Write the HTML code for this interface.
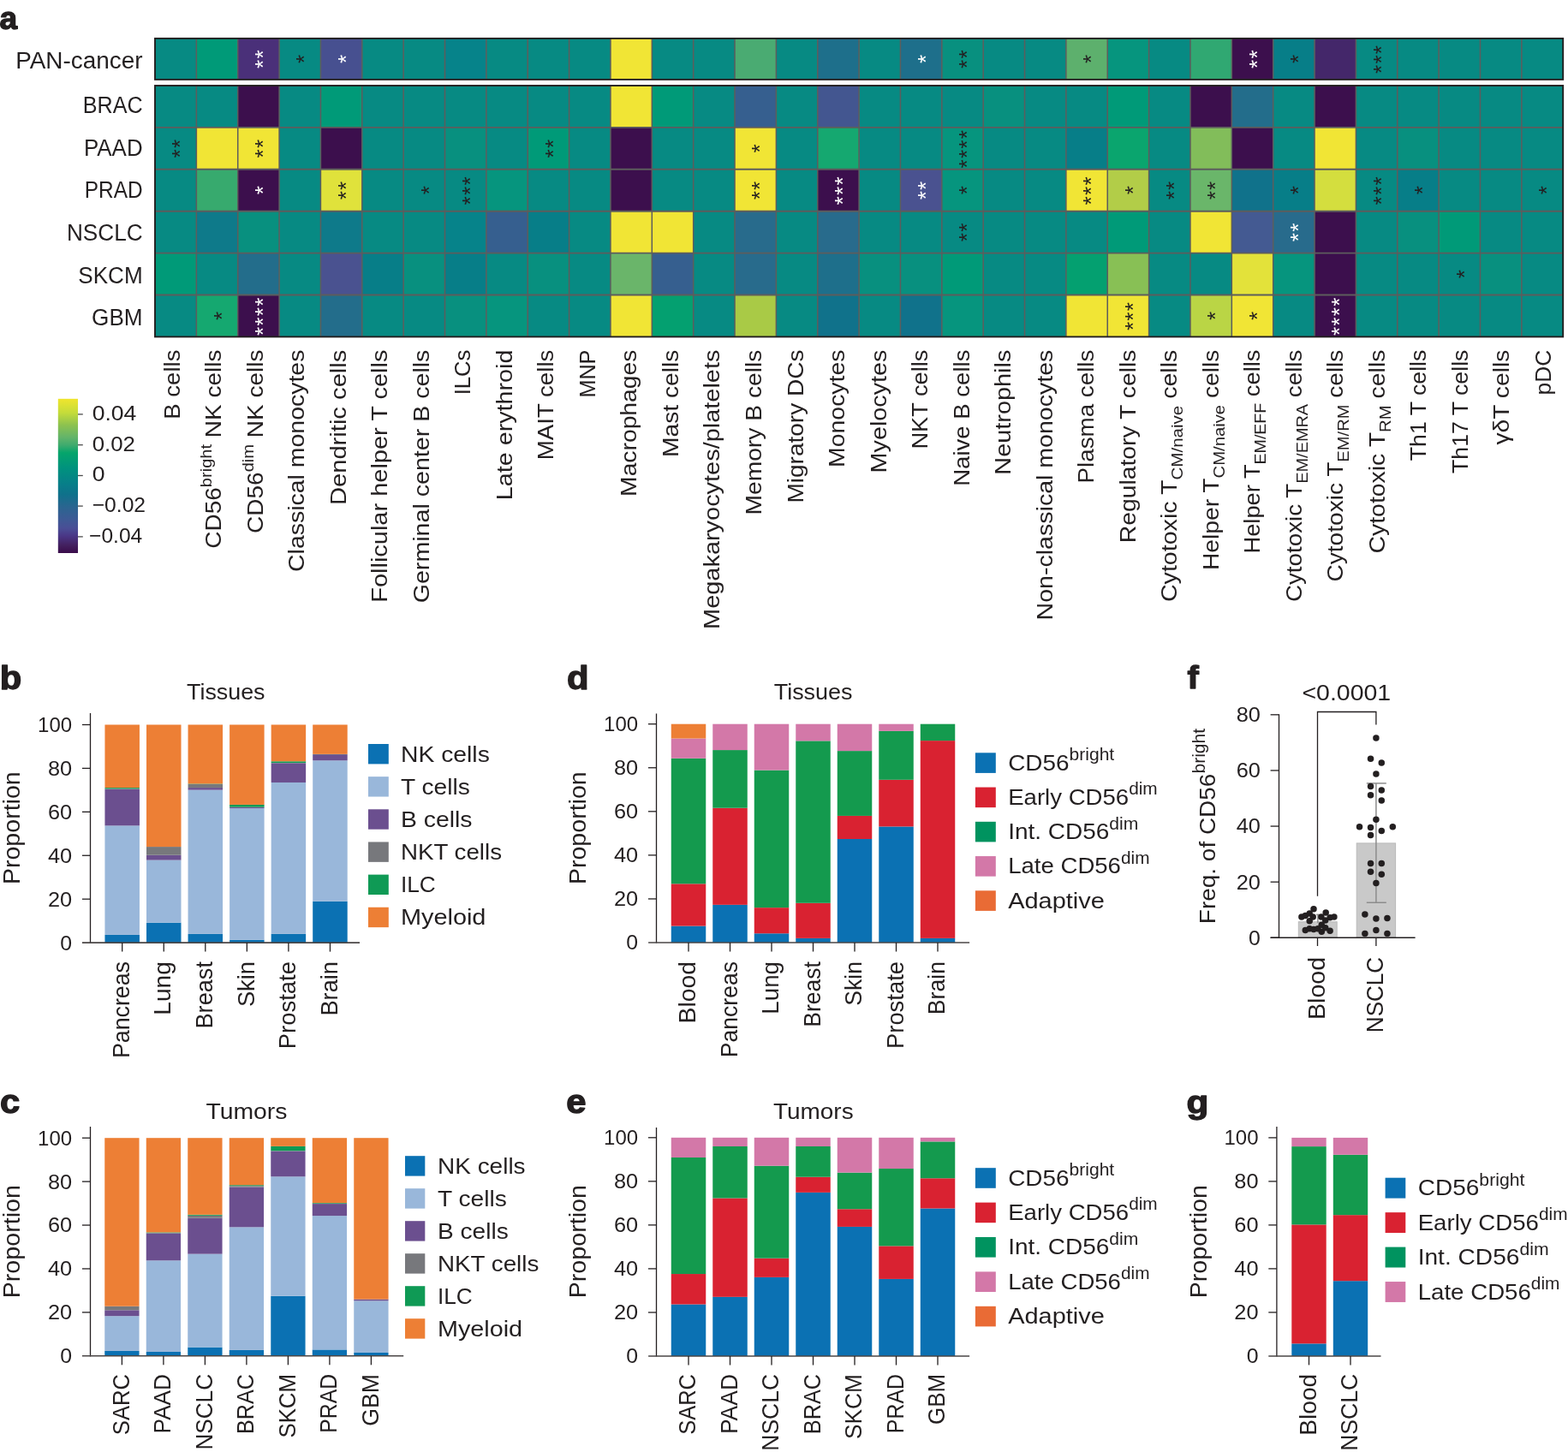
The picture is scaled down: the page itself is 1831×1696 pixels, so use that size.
<!DOCTYPE html>
<html><head><meta charset="utf-8"><title>Figure</title>
<style>
html,body{margin:0;padding:0;background:#fff;}
body{width:1831px;height:1696px;overflow:hidden;}
svg{display:block;font-family:"Liberation Sans", "DejaVu Sans", sans-serif;}
</style></head><body>
<svg width="1831" height="1696" viewBox="0 0 1831 1696">
<rect width="1831" height="1696" fill="#fff"/>
<text transform="translate(-0.4 33.6) scale(1.03 1)" font-size="36" font-weight="bold" fill="#231f20" stroke="#231f20" stroke-width="1.3" stroke-linejoin="round">a</text>
<text transform="translate(-0.2 804.8) scale(1.1 1)" font-size="38" font-weight="bold" fill="#231f20" stroke="#231f20" stroke-width="1.3" stroke-linejoin="round">b</text>
<text transform="translate(-0.1 1300.2) scale(1.1 1)" font-size="38" font-weight="bold" fill="#231f20" stroke="#231f20" stroke-width="1.3" stroke-linejoin="round">c</text>
<text transform="translate(662 804.8) scale(1.1 1)" font-size="38" font-weight="bold" fill="#231f20" stroke="#231f20" stroke-width="1.3" stroke-linejoin="round">d</text>
<text transform="translate(661.3 1300) scale(1.1 1)" font-size="38" font-weight="bold" fill="#231f20" stroke="#231f20" stroke-width="1.3" stroke-linejoin="round">e</text>
<text transform="translate(1386.6 804.3) scale(1.08 1)" font-size="37" font-weight="bold" fill="#231f20" stroke="#231f20" stroke-width="1.3" stroke-linejoin="round">f</text>
<text transform="translate(1385.4 1300) scale(1.14 1)" font-size="37" font-weight="bold" fill="#231f20" stroke="#231f20" stroke-width="1.3" stroke-linejoin="round">g</text>
<rect x="181" y="44.9" width="48.41" height="48.05" fill="#078a83"/>
<rect x="229.36" y="44.9" width="48.41" height="48.05" fill="#009a78"/>
<rect x="277.72" y="44.9" width="48.41" height="48.05" fill="#4a3079"/>
<rect x="326.08" y="44.9" width="48.41" height="48.05" fill="#078a83"/>
<rect x="374.44" y="44.9" width="48.41" height="48.05" fill="#475090"/>
<rect x="422.79" y="44.9" width="48.41" height="48.05" fill="#078a83"/>
<rect x="471.15" y="44.9" width="48.41" height="48.05" fill="#078a83"/>
<rect x="519.51" y="44.9" width="48.41" height="48.05" fill="#06838a"/>
<rect x="567.87" y="44.9" width="48.41" height="48.05" fill="#078a83"/>
<rect x="616.23" y="44.9" width="48.41" height="48.05" fill="#078a83"/>
<rect x="664.59" y="44.9" width="48.41" height="48.05" fill="#078a83"/>
<rect x="712.95" y="44.9" width="48.41" height="48.05" fill="#f1e535"/>
<rect x="761.31" y="44.9" width="48.41" height="48.05" fill="#078a83"/>
<rect x="809.66" y="44.9" width="48.41" height="48.05" fill="#078a83"/>
<rect x="858.02" y="44.9" width="48.41" height="48.05" fill="#4aab72"/>
<rect x="906.38" y="44.9" width="48.41" height="48.05" fill="#078a83"/>
<rect x="954.74" y="44.9" width="48.41" height="48.05" fill="#1e6f8b"/>
<rect x="1003.1" y="44.9" width="48.41" height="48.05" fill="#078a83"/>
<rect x="1051.46" y="44.9" width="48.41" height="48.05" fill="#1e6f8b"/>
<rect x="1099.82" y="44.9" width="48.41" height="48.05" fill="#08907f"/>
<rect x="1148.18" y="44.9" width="48.41" height="48.05" fill="#078a83"/>
<rect x="1196.54" y="44.9" width="48.41" height="48.05" fill="#078a83"/>
<rect x="1244.89" y="44.9" width="48.41" height="48.05" fill="#5db06d"/>
<rect x="1293.25" y="44.9" width="48.41" height="48.05" fill="#06957e"/>
<rect x="1341.61" y="44.9" width="48.41" height="48.05" fill="#078a83"/>
<rect x="1389.97" y="44.9" width="48.41" height="48.05" fill="#30a872"/>
<rect x="1438.33" y="44.9" width="48.41" height="48.05" fill="#3c0f4d"/>
<rect x="1486.69" y="44.9" width="48.41" height="48.05" fill="#077e88"/>
<rect x="1535.05" y="44.9" width="48.41" height="48.05" fill="#44276a"/>
<rect x="1583.41" y="44.9" width="48.41" height="48.05" fill="#078a83"/>
<rect x="1631.76" y="44.9" width="48.41" height="48.05" fill="#078a83"/>
<rect x="1680.12" y="44.9" width="48.41" height="48.05" fill="#078a83"/>
<rect x="1728.48" y="44.9" width="48.41" height="48.05" fill="#078a83"/>
<rect x="1776.84" y="44.9" width="48.41" height="48.05" fill="#078a83"/>
<rect x="181" y="100" width="48.41" height="48.95" fill="#078a83"/>
<rect x="229.36" y="100" width="48.41" height="48.95" fill="#078a83"/>
<rect x="277.72" y="100" width="48.41" height="48.95" fill="#3c0f4d"/>
<rect x="326.08" y="100" width="48.41" height="48.95" fill="#078a83"/>
<rect x="374.44" y="100" width="48.41" height="48.95" fill="#009a78"/>
<rect x="422.79" y="100" width="48.41" height="48.95" fill="#078a83"/>
<rect x="471.15" y="100" width="48.41" height="48.95" fill="#078a83"/>
<rect x="519.51" y="100" width="48.41" height="48.95" fill="#078a83"/>
<rect x="567.87" y="100" width="48.41" height="48.95" fill="#078a83"/>
<rect x="616.23" y="100" width="48.41" height="48.95" fill="#078a83"/>
<rect x="664.59" y="100" width="48.41" height="48.95" fill="#078a83"/>
<rect x="712.95" y="100" width="48.41" height="48.95" fill="#f1e535"/>
<rect x="761.31" y="100" width="48.41" height="48.95" fill="#009a78"/>
<rect x="809.66" y="100" width="48.41" height="48.95" fill="#078a83"/>
<rect x="858.02" y="100" width="48.41" height="48.95" fill="#365f8f"/>
<rect x="906.38" y="100" width="48.41" height="48.95" fill="#078a83"/>
<rect x="954.74" y="100" width="48.41" height="48.95" fill="#435690"/>
<rect x="1003.1" y="100" width="48.41" height="48.95" fill="#078a83"/>
<rect x="1051.46" y="100" width="48.41" height="48.95" fill="#078a83"/>
<rect x="1099.82" y="100" width="48.41" height="48.95" fill="#078a83"/>
<rect x="1148.18" y="100" width="48.41" height="48.95" fill="#08907f"/>
<rect x="1196.54" y="100" width="48.41" height="48.95" fill="#078a83"/>
<rect x="1244.89" y="100" width="48.41" height="48.95" fill="#078a83"/>
<rect x="1293.25" y="100" width="48.41" height="48.95" fill="#009a78"/>
<rect x="1341.61" y="100" width="48.41" height="48.95" fill="#078a83"/>
<rect x="1389.97" y="100" width="48.41" height="48.95" fill="#3c0f4d"/>
<rect x="1438.33" y="100" width="48.41" height="48.95" fill="#236d8b"/>
<rect x="1486.69" y="100" width="48.41" height="48.95" fill="#078a83"/>
<rect x="1535.05" y="100" width="48.41" height="48.95" fill="#3c0f4d"/>
<rect x="1583.41" y="100" width="48.41" height="48.95" fill="#078a83"/>
<rect x="1631.76" y="100" width="48.41" height="48.95" fill="#078a83"/>
<rect x="1680.12" y="100" width="48.41" height="48.95" fill="#078a83"/>
<rect x="1728.48" y="100" width="48.41" height="48.95" fill="#078a83"/>
<rect x="1776.84" y="100" width="48.41" height="48.95" fill="#078a83"/>
<rect x="181" y="148.9" width="48.41" height="48.95" fill="#078a83"/>
<rect x="229.36" y="148.9" width="48.41" height="48.95" fill="#f1e535"/>
<rect x="277.72" y="148.9" width="48.41" height="48.95" fill="#f1e535"/>
<rect x="326.08" y="148.9" width="48.41" height="48.95" fill="#078a83"/>
<rect x="374.44" y="148.9" width="48.41" height="48.95" fill="#3c0f4d"/>
<rect x="422.79" y="148.9" width="48.41" height="48.95" fill="#078a83"/>
<rect x="471.15" y="148.9" width="48.41" height="48.95" fill="#078a83"/>
<rect x="519.51" y="148.9" width="48.41" height="48.95" fill="#08907f"/>
<rect x="567.87" y="148.9" width="48.41" height="48.95" fill="#078a83"/>
<rect x="616.23" y="148.9" width="48.41" height="48.95" fill="#009a78"/>
<rect x="664.59" y="148.9" width="48.41" height="48.95" fill="#078a83"/>
<rect x="712.95" y="148.9" width="48.41" height="48.95" fill="#3c0f4d"/>
<rect x="761.31" y="148.9" width="48.41" height="48.95" fill="#078a83"/>
<rect x="809.66" y="148.9" width="48.41" height="48.95" fill="#078a83"/>
<rect x="858.02" y="148.9" width="48.41" height="48.95" fill="#f1e535"/>
<rect x="906.38" y="148.9" width="48.41" height="48.95" fill="#078a83"/>
<rect x="954.74" y="148.9" width="48.41" height="48.95" fill="#15a870"/>
<rect x="1003.1" y="148.9" width="48.41" height="48.95" fill="#078a83"/>
<rect x="1051.46" y="148.9" width="48.41" height="48.95" fill="#078a83"/>
<rect x="1099.82" y="148.9" width="48.41" height="48.95" fill="#06957e"/>
<rect x="1148.18" y="148.9" width="48.41" height="48.95" fill="#078a83"/>
<rect x="1196.54" y="148.9" width="48.41" height="48.95" fill="#078a83"/>
<rect x="1244.89" y="148.9" width="48.41" height="48.95" fill="#077e88"/>
<rect x="1293.25" y="148.9" width="48.41" height="48.95" fill="#0aa56e"/>
<rect x="1341.61" y="148.9" width="48.41" height="48.95" fill="#078a83"/>
<rect x="1389.97" y="148.9" width="48.41" height="48.95" fill="#82bd5a"/>
<rect x="1438.33" y="148.9" width="48.41" height="48.95" fill="#3c0f4d"/>
<rect x="1486.69" y="148.9" width="48.41" height="48.95" fill="#078a83"/>
<rect x="1535.05" y="148.9" width="48.41" height="48.95" fill="#f1e535"/>
<rect x="1583.41" y="148.9" width="48.41" height="48.95" fill="#078a83"/>
<rect x="1631.76" y="148.9" width="48.41" height="48.95" fill="#08907f"/>
<rect x="1680.12" y="148.9" width="48.41" height="48.95" fill="#078a83"/>
<rect x="1728.48" y="148.9" width="48.41" height="48.95" fill="#078a83"/>
<rect x="1776.84" y="148.9" width="48.41" height="48.95" fill="#078a83"/>
<rect x="181" y="197.8" width="48.41" height="48.95" fill="#078a83"/>
<rect x="229.36" y="197.8" width="48.41" height="48.95" fill="#37aa6e"/>
<rect x="277.72" y="197.8" width="48.41" height="48.95" fill="#3c0f4d"/>
<rect x="326.08" y="197.8" width="48.41" height="48.95" fill="#078a83"/>
<rect x="374.44" y="197.8" width="48.41" height="48.95" fill="#e0e23b"/>
<rect x="422.79" y="197.8" width="48.41" height="48.95" fill="#078a83"/>
<rect x="471.15" y="197.8" width="48.41" height="48.95" fill="#078a83"/>
<rect x="519.51" y="197.8" width="48.41" height="48.95" fill="#078a83"/>
<rect x="567.87" y="197.8" width="48.41" height="48.95" fill="#06957e"/>
<rect x="616.23" y="197.8" width="48.41" height="48.95" fill="#078a83"/>
<rect x="664.59" y="197.8" width="48.41" height="48.95" fill="#078a83"/>
<rect x="712.95" y="197.8" width="48.41" height="48.95" fill="#3c0f4d"/>
<rect x="761.31" y="197.8" width="48.41" height="48.95" fill="#078a83"/>
<rect x="809.66" y="197.8" width="48.41" height="48.95" fill="#078a83"/>
<rect x="858.02" y="197.8" width="48.41" height="48.95" fill="#f1e535"/>
<rect x="906.38" y="197.8" width="48.41" height="48.95" fill="#078a83"/>
<rect x="954.74" y="197.8" width="48.41" height="48.95" fill="#3c0f4d"/>
<rect x="1003.1" y="197.8" width="48.41" height="48.95" fill="#078a83"/>
<rect x="1051.46" y="197.8" width="48.41" height="48.95" fill="#4a5290"/>
<rect x="1099.82" y="197.8" width="48.41" height="48.95" fill="#06957e"/>
<rect x="1148.18" y="197.8" width="48.41" height="48.95" fill="#078a83"/>
<rect x="1196.54" y="197.8" width="48.41" height="48.95" fill="#078a83"/>
<rect x="1244.89" y="197.8" width="48.41" height="48.95" fill="#f1e535"/>
<rect x="1293.25" y="197.8" width="48.41" height="48.95" fill="#b2cd48"/>
<rect x="1341.61" y="197.8" width="48.41" height="48.95" fill="#078a83"/>
<rect x="1389.97" y="197.8" width="48.41" height="48.95" fill="#6ab66a"/>
<rect x="1438.33" y="197.8" width="48.41" height="48.95" fill="#10728b"/>
<rect x="1486.69" y="197.8" width="48.41" height="48.95" fill="#077e88"/>
<rect x="1535.05" y="197.8" width="48.41" height="48.95" fill="#d4de3e"/>
<rect x="1583.41" y="197.8" width="48.41" height="48.95" fill="#078a83"/>
<rect x="1631.76" y="197.8" width="48.41" height="48.95" fill="#077e88"/>
<rect x="1680.12" y="197.8" width="48.41" height="48.95" fill="#078a83"/>
<rect x="1728.48" y="197.8" width="48.41" height="48.95" fill="#078a83"/>
<rect x="1776.84" y="197.8" width="48.41" height="48.95" fill="#078a83"/>
<rect x="181" y="246.7" width="48.41" height="48.95" fill="#078a83"/>
<rect x="229.36" y="246.7" width="48.41" height="48.95" fill="#0e7a8a"/>
<rect x="277.72" y="246.7" width="48.41" height="48.95" fill="#08907f"/>
<rect x="326.08" y="246.7" width="48.41" height="48.95" fill="#078a83"/>
<rect x="374.44" y="246.7" width="48.41" height="48.95" fill="#0e7a8a"/>
<rect x="422.79" y="246.7" width="48.41" height="48.95" fill="#078a83"/>
<rect x="471.15" y="246.7" width="48.41" height="48.95" fill="#078a83"/>
<rect x="519.51" y="246.7" width="48.41" height="48.95" fill="#06838a"/>
<rect x="567.87" y="246.7" width="48.41" height="48.95" fill="#365f8f"/>
<rect x="616.23" y="246.7" width="48.41" height="48.95" fill="#077e88"/>
<rect x="664.59" y="246.7" width="48.41" height="48.95" fill="#078a83"/>
<rect x="712.95" y="246.7" width="48.41" height="48.95" fill="#f1e535"/>
<rect x="761.31" y="246.7" width="48.41" height="48.95" fill="#f1e535"/>
<rect x="809.66" y="246.7" width="48.41" height="48.95" fill="#078a83"/>
<rect x="858.02" y="246.7" width="48.41" height="48.95" fill="#286b8c"/>
<rect x="906.38" y="246.7" width="48.41" height="48.95" fill="#078a83"/>
<rect x="954.74" y="246.7" width="48.41" height="48.95" fill="#286b8c"/>
<rect x="1003.1" y="246.7" width="48.41" height="48.95" fill="#078a83"/>
<rect x="1051.46" y="246.7" width="48.41" height="48.95" fill="#078a83"/>
<rect x="1099.82" y="246.7" width="48.41" height="48.95" fill="#078a83"/>
<rect x="1148.18" y="246.7" width="48.41" height="48.95" fill="#078a83"/>
<rect x="1196.54" y="246.7" width="48.41" height="48.95" fill="#078a83"/>
<rect x="1244.89" y="246.7" width="48.41" height="48.95" fill="#078a83"/>
<rect x="1293.25" y="246.7" width="48.41" height="48.95" fill="#009a78"/>
<rect x="1341.61" y="246.7" width="48.41" height="48.95" fill="#078a83"/>
<rect x="1389.97" y="246.7" width="48.41" height="48.95" fill="#f1e535"/>
<rect x="1438.33" y="246.7" width="48.41" height="48.95" fill="#445a92"/>
<rect x="1486.69" y="246.7" width="48.41" height="48.95" fill="#286b8c"/>
<rect x="1535.05" y="246.7" width="48.41" height="48.95" fill="#3c0f4d"/>
<rect x="1583.41" y="246.7" width="48.41" height="48.95" fill="#078a83"/>
<rect x="1631.76" y="246.7" width="48.41" height="48.95" fill="#08907f"/>
<rect x="1680.12" y="246.7" width="48.41" height="48.95" fill="#009a78"/>
<rect x="1728.48" y="246.7" width="48.41" height="48.95" fill="#078a83"/>
<rect x="1776.84" y="246.7" width="48.41" height="48.95" fill="#078a83"/>
<rect x="181" y="295.6" width="48.41" height="48.95" fill="#009a78"/>
<rect x="229.36" y="295.6" width="48.41" height="48.95" fill="#078a83"/>
<rect x="277.72" y="295.6" width="48.41" height="48.95" fill="#236d8b"/>
<rect x="326.08" y="295.6" width="48.41" height="48.95" fill="#078a83"/>
<rect x="374.44" y="295.6" width="48.41" height="48.95" fill="#4a5290"/>
<rect x="422.79" y="295.6" width="48.41" height="48.95" fill="#077e88"/>
<rect x="471.15" y="295.6" width="48.41" height="48.95" fill="#08907f"/>
<rect x="519.51" y="295.6" width="48.41" height="48.95" fill="#077e88"/>
<rect x="567.87" y="295.6" width="48.41" height="48.95" fill="#078a83"/>
<rect x="616.23" y="295.6" width="48.41" height="48.95" fill="#08907f"/>
<rect x="664.59" y="295.6" width="48.41" height="48.95" fill="#078a83"/>
<rect x="712.95" y="295.6" width="48.41" height="48.95" fill="#6ab56a"/>
<rect x="761.31" y="295.6" width="48.41" height="48.95" fill="#365f8f"/>
<rect x="809.66" y="295.6" width="48.41" height="48.95" fill="#078a83"/>
<rect x="858.02" y="295.6" width="48.41" height="48.95" fill="#286b8c"/>
<rect x="906.38" y="295.6" width="48.41" height="48.95" fill="#078a83"/>
<rect x="954.74" y="295.6" width="48.41" height="48.95" fill="#1e6f8b"/>
<rect x="1003.1" y="295.6" width="48.41" height="48.95" fill="#08907f"/>
<rect x="1051.46" y="295.6" width="48.41" height="48.95" fill="#08907f"/>
<rect x="1099.82" y="295.6" width="48.41" height="48.95" fill="#009a78"/>
<rect x="1148.18" y="295.6" width="48.41" height="48.95" fill="#078a83"/>
<rect x="1196.54" y="295.6" width="48.41" height="48.95" fill="#078a83"/>
<rect x="1244.89" y="295.6" width="48.41" height="48.95" fill="#04a070"/>
<rect x="1293.25" y="295.6" width="48.41" height="48.95" fill="#88c055"/>
<rect x="1341.61" y="295.6" width="48.41" height="48.95" fill="#078a83"/>
<rect x="1389.97" y="295.6" width="48.41" height="48.95" fill="#078a83"/>
<rect x="1438.33" y="295.6" width="48.41" height="48.95" fill="#e3e23a"/>
<rect x="1486.69" y="295.6" width="48.41" height="48.95" fill="#06957e"/>
<rect x="1535.05" y="295.6" width="48.41" height="48.95" fill="#3c0f4d"/>
<rect x="1583.41" y="295.6" width="48.41" height="48.95" fill="#078a83"/>
<rect x="1631.76" y="295.6" width="48.41" height="48.95" fill="#078a83"/>
<rect x="1680.12" y="295.6" width="48.41" height="48.95" fill="#078a83"/>
<rect x="1728.48" y="295.6" width="48.41" height="48.95" fill="#08907f"/>
<rect x="1776.84" y="295.6" width="48.41" height="48.95" fill="#078a83"/>
<rect x="181" y="344.5" width="48.41" height="48.95" fill="#078a83"/>
<rect x="229.36" y="344.5" width="48.41" height="48.95" fill="#15a870"/>
<rect x="277.72" y="344.5" width="48.41" height="48.95" fill="#3c0f4d"/>
<rect x="326.08" y="344.5" width="48.41" height="48.95" fill="#078a83"/>
<rect x="374.44" y="344.5" width="48.41" height="48.95" fill="#236d8b"/>
<rect x="422.79" y="344.5" width="48.41" height="48.95" fill="#078a83"/>
<rect x="471.15" y="344.5" width="48.41" height="48.95" fill="#078a83"/>
<rect x="519.51" y="344.5" width="48.41" height="48.95" fill="#08907f"/>
<rect x="567.87" y="344.5" width="48.41" height="48.95" fill="#06957e"/>
<rect x="616.23" y="344.5" width="48.41" height="48.95" fill="#078a83"/>
<rect x="664.59" y="344.5" width="48.41" height="48.95" fill="#078a83"/>
<rect x="712.95" y="344.5" width="48.41" height="48.95" fill="#f1e535"/>
<rect x="761.31" y="344.5" width="48.41" height="48.95" fill="#04a070"/>
<rect x="809.66" y="344.5" width="48.41" height="48.95" fill="#078a83"/>
<rect x="858.02" y="344.5" width="48.41" height="48.95" fill="#a9ca46"/>
<rect x="906.38" y="344.5" width="48.41" height="48.95" fill="#078a83"/>
<rect x="954.74" y="344.5" width="48.41" height="48.95" fill="#10728b"/>
<rect x="1003.1" y="344.5" width="48.41" height="48.95" fill="#078a83"/>
<rect x="1051.46" y="344.5" width="48.41" height="48.95" fill="#10728b"/>
<rect x="1099.82" y="344.5" width="48.41" height="48.95" fill="#06957e"/>
<rect x="1148.18" y="344.5" width="48.41" height="48.95" fill="#078a83"/>
<rect x="1196.54" y="344.5" width="48.41" height="48.95" fill="#078a83"/>
<rect x="1244.89" y="344.5" width="48.41" height="48.95" fill="#f1e535"/>
<rect x="1293.25" y="344.5" width="48.41" height="48.95" fill="#f1e535"/>
<rect x="1341.61" y="344.5" width="48.41" height="48.95" fill="#078a83"/>
<rect x="1389.97" y="344.5" width="48.41" height="48.95" fill="#bad545"/>
<rect x="1438.33" y="344.5" width="48.41" height="48.95" fill="#f1e535"/>
<rect x="1486.69" y="344.5" width="48.41" height="48.95" fill="#078a83"/>
<rect x="1535.05" y="344.5" width="48.41" height="48.95" fill="#3c0f4d"/>
<rect x="1583.41" y="344.5" width="48.41" height="48.95" fill="#078a83"/>
<rect x="1631.76" y="344.5" width="48.41" height="48.95" fill="#078a83"/>
<rect x="1680.12" y="344.5" width="48.41" height="48.95" fill="#078a83"/>
<rect x="1728.48" y="344.5" width="48.41" height="48.95" fill="#078a83"/>
<rect x="1776.84" y="344.5" width="48.41" height="48.95" fill="#078a83"/>
<line x1="229.36" y1="44.9" x2="229.36" y2="92.9" stroke="#5d5d5d" stroke-width="1.5"/>
<line x1="277.72" y1="44.9" x2="277.72" y2="92.9" stroke="#5d5d5d" stroke-width="1.5"/>
<line x1="326.08" y1="44.9" x2="326.08" y2="92.9" stroke="#5d5d5d" stroke-width="1.5"/>
<line x1="374.44" y1="44.9" x2="374.44" y2="92.9" stroke="#5d5d5d" stroke-width="1.5"/>
<line x1="422.79" y1="44.9" x2="422.79" y2="92.9" stroke="#5d5d5d" stroke-width="1.5"/>
<line x1="471.15" y1="44.9" x2="471.15" y2="92.9" stroke="#5d5d5d" stroke-width="1.5"/>
<line x1="519.51" y1="44.9" x2="519.51" y2="92.9" stroke="#5d5d5d" stroke-width="1.5"/>
<line x1="567.87" y1="44.9" x2="567.87" y2="92.9" stroke="#5d5d5d" stroke-width="1.5"/>
<line x1="616.23" y1="44.9" x2="616.23" y2="92.9" stroke="#5d5d5d" stroke-width="1.5"/>
<line x1="664.59" y1="44.9" x2="664.59" y2="92.9" stroke="#5d5d5d" stroke-width="1.5"/>
<line x1="712.95" y1="44.9" x2="712.95" y2="92.9" stroke="#5d5d5d" stroke-width="1.5"/>
<line x1="761.31" y1="44.9" x2="761.31" y2="92.9" stroke="#5d5d5d" stroke-width="1.5"/>
<line x1="809.66" y1="44.9" x2="809.66" y2="92.9" stroke="#5d5d5d" stroke-width="1.5"/>
<line x1="858.02" y1="44.9" x2="858.02" y2="92.9" stroke="#5d5d5d" stroke-width="1.5"/>
<line x1="906.38" y1="44.9" x2="906.38" y2="92.9" stroke="#5d5d5d" stroke-width="1.5"/>
<line x1="954.74" y1="44.9" x2="954.74" y2="92.9" stroke="#5d5d5d" stroke-width="1.5"/>
<line x1="1003.1" y1="44.9" x2="1003.1" y2="92.9" stroke="#5d5d5d" stroke-width="1.5"/>
<line x1="1051.46" y1="44.9" x2="1051.46" y2="92.9" stroke="#5d5d5d" stroke-width="1.5"/>
<line x1="1099.82" y1="44.9" x2="1099.82" y2="92.9" stroke="#5d5d5d" stroke-width="1.5"/>
<line x1="1148.18" y1="44.9" x2="1148.18" y2="92.9" stroke="#5d5d5d" stroke-width="1.5"/>
<line x1="1196.54" y1="44.9" x2="1196.54" y2="92.9" stroke="#5d5d5d" stroke-width="1.5"/>
<line x1="1244.89" y1="44.9" x2="1244.89" y2="92.9" stroke="#5d5d5d" stroke-width="1.5"/>
<line x1="1293.25" y1="44.9" x2="1293.25" y2="92.9" stroke="#5d5d5d" stroke-width="1.5"/>
<line x1="1341.61" y1="44.9" x2="1341.61" y2="92.9" stroke="#5d5d5d" stroke-width="1.5"/>
<line x1="1389.97" y1="44.9" x2="1389.97" y2="92.9" stroke="#5d5d5d" stroke-width="1.5"/>
<line x1="1438.33" y1="44.9" x2="1438.33" y2="92.9" stroke="#5d5d5d" stroke-width="1.5"/>
<line x1="1486.69" y1="44.9" x2="1486.69" y2="92.9" stroke="#5d5d5d" stroke-width="1.5"/>
<line x1="1535.05" y1="44.9" x2="1535.05" y2="92.9" stroke="#5d5d5d" stroke-width="1.5"/>
<line x1="1583.41" y1="44.9" x2="1583.41" y2="92.9" stroke="#5d5d5d" stroke-width="1.5"/>
<line x1="1631.76" y1="44.9" x2="1631.76" y2="92.9" stroke="#5d5d5d" stroke-width="1.5"/>
<line x1="1680.12" y1="44.9" x2="1680.12" y2="92.9" stroke="#5d5d5d" stroke-width="1.5"/>
<line x1="1728.48" y1="44.9" x2="1728.48" y2="92.9" stroke="#5d5d5d" stroke-width="1.5"/>
<line x1="1776.84" y1="44.9" x2="1776.84" y2="92.9" stroke="#5d5d5d" stroke-width="1.5"/>
<line x1="229.36" y1="100" x2="229.36" y2="393.4" stroke="#5d5d5d" stroke-width="1.5"/>
<line x1="277.72" y1="100" x2="277.72" y2="393.4" stroke="#5d5d5d" stroke-width="1.5"/>
<line x1="326.08" y1="100" x2="326.08" y2="393.4" stroke="#5d5d5d" stroke-width="1.5"/>
<line x1="374.44" y1="100" x2="374.44" y2="393.4" stroke="#5d5d5d" stroke-width="1.5"/>
<line x1="422.79" y1="100" x2="422.79" y2="393.4" stroke="#5d5d5d" stroke-width="1.5"/>
<line x1="471.15" y1="100" x2="471.15" y2="393.4" stroke="#5d5d5d" stroke-width="1.5"/>
<line x1="519.51" y1="100" x2="519.51" y2="393.4" stroke="#5d5d5d" stroke-width="1.5"/>
<line x1="567.87" y1="100" x2="567.87" y2="393.4" stroke="#5d5d5d" stroke-width="1.5"/>
<line x1="616.23" y1="100" x2="616.23" y2="393.4" stroke="#5d5d5d" stroke-width="1.5"/>
<line x1="664.59" y1="100" x2="664.59" y2="393.4" stroke="#5d5d5d" stroke-width="1.5"/>
<line x1="712.95" y1="100" x2="712.95" y2="393.4" stroke="#5d5d5d" stroke-width="1.5"/>
<line x1="761.31" y1="100" x2="761.31" y2="393.4" stroke="#5d5d5d" stroke-width="1.5"/>
<line x1="809.66" y1="100" x2="809.66" y2="393.4" stroke="#5d5d5d" stroke-width="1.5"/>
<line x1="858.02" y1="100" x2="858.02" y2="393.4" stroke="#5d5d5d" stroke-width="1.5"/>
<line x1="906.38" y1="100" x2="906.38" y2="393.4" stroke="#5d5d5d" stroke-width="1.5"/>
<line x1="954.74" y1="100" x2="954.74" y2="393.4" stroke="#5d5d5d" stroke-width="1.5"/>
<line x1="1003.1" y1="100" x2="1003.1" y2="393.4" stroke="#5d5d5d" stroke-width="1.5"/>
<line x1="1051.46" y1="100" x2="1051.46" y2="393.4" stroke="#5d5d5d" stroke-width="1.5"/>
<line x1="1099.82" y1="100" x2="1099.82" y2="393.4" stroke="#5d5d5d" stroke-width="1.5"/>
<line x1="1148.18" y1="100" x2="1148.18" y2="393.4" stroke="#5d5d5d" stroke-width="1.5"/>
<line x1="1196.54" y1="100" x2="1196.54" y2="393.4" stroke="#5d5d5d" stroke-width="1.5"/>
<line x1="1244.89" y1="100" x2="1244.89" y2="393.4" stroke="#5d5d5d" stroke-width="1.5"/>
<line x1="1293.25" y1="100" x2="1293.25" y2="393.4" stroke="#5d5d5d" stroke-width="1.5"/>
<line x1="1341.61" y1="100" x2="1341.61" y2="393.4" stroke="#5d5d5d" stroke-width="1.5"/>
<line x1="1389.97" y1="100" x2="1389.97" y2="393.4" stroke="#5d5d5d" stroke-width="1.5"/>
<line x1="1438.33" y1="100" x2="1438.33" y2="393.4" stroke="#5d5d5d" stroke-width="1.5"/>
<line x1="1486.69" y1="100" x2="1486.69" y2="393.4" stroke="#5d5d5d" stroke-width="1.5"/>
<line x1="1535.05" y1="100" x2="1535.05" y2="393.4" stroke="#5d5d5d" stroke-width="1.5"/>
<line x1="1583.41" y1="100" x2="1583.41" y2="393.4" stroke="#5d5d5d" stroke-width="1.5"/>
<line x1="1631.76" y1="100" x2="1631.76" y2="393.4" stroke="#5d5d5d" stroke-width="1.5"/>
<line x1="1680.12" y1="100" x2="1680.12" y2="393.4" stroke="#5d5d5d" stroke-width="1.5"/>
<line x1="1728.48" y1="100" x2="1728.48" y2="393.4" stroke="#5d5d5d" stroke-width="1.5"/>
<line x1="1776.84" y1="100" x2="1776.84" y2="393.4" stroke="#5d5d5d" stroke-width="1.5"/>
<line x1="181" y1="148.9" x2="1825.2" y2="148.9" stroke="#5d5d5d" stroke-width="1.9"/>
<line x1="181" y1="197.8" x2="1825.2" y2="197.8" stroke="#5d5d5d" stroke-width="1.9"/>
<line x1="181" y1="246.7" x2="1825.2" y2="246.7" stroke="#5d5d5d" stroke-width="1.9"/>
<line x1="181" y1="295.6" x2="1825.2" y2="295.6" stroke="#5d5d5d" stroke-width="1.9"/>
<line x1="181" y1="344.5" x2="1825.2" y2="344.5" stroke="#5d5d5d" stroke-width="1.9"/>
<rect x="181" y="44.9" width="1644.2" height="48" fill="none" stroke="#231f20" stroke-width="1.9"/>
<rect x="181" y="100" width="1644.2" height="293.4" fill="none" stroke="#231f20" stroke-width="1.9"/>
<text transform="translate(316.1 68.6) rotate(-90)" font-size="26" letter-spacing="1.3" text-anchor="middle" fill="#ffffff">**</text>
<text transform="translate(364.46 68.3) rotate(-90)" font-size="26" letter-spacing="1.3" text-anchor="middle" fill="#231f20">*</text>
<text transform="translate(412.81 68.3) rotate(-90)" font-size="26" letter-spacing="1.3" text-anchor="middle" fill="#ffffff">*</text>
<text transform="translate(1089.84 68.3) rotate(-90)" font-size="26" letter-spacing="1.3" text-anchor="middle" fill="#ffffff">*</text>
<text transform="translate(1138.2 68.6) rotate(-90)" font-size="26" letter-spacing="1.3" text-anchor="middle" fill="#231f20">**</text>
<text transform="translate(1283.27 68.3) rotate(-90)" font-size="26" letter-spacing="1.3" text-anchor="middle" fill="#231f20">*</text>
<text transform="translate(1476.71 68.6) rotate(-90)" font-size="26" letter-spacing="1.3" text-anchor="middle" fill="#ffffff">**</text>
<text transform="translate(1525.07 68.3) rotate(-90)" font-size="26" letter-spacing="1.3" text-anchor="middle" fill="#231f20">*</text>
<text transform="translate(1621.79 68.9) rotate(-90)" font-size="26" letter-spacing="1.3" text-anchor="middle" fill="#231f20">***</text>
<text transform="translate(219.38 173.05) rotate(-90)" font-size="26" letter-spacing="1.3" text-anchor="middle" fill="#231f20">**</text>
<text transform="translate(316.1 173.05) rotate(-90)" font-size="26" letter-spacing="1.3" text-anchor="middle" fill="#231f20">**</text>
<text transform="translate(654.61 173.05) rotate(-90)" font-size="26" letter-spacing="1.3" text-anchor="middle" fill="#231f20">**</text>
<text transform="translate(896.4 172.75) rotate(-90)" font-size="26" letter-spacing="1.3" text-anchor="middle" fill="#231f20">*</text>
<text transform="translate(1138.2 173.65) rotate(-90)" font-size="26" letter-spacing="1.3" text-anchor="middle" fill="#231f20">****</text>
<text transform="translate(316.1 221.65) rotate(-90)" font-size="26" letter-spacing="1.3" text-anchor="middle" fill="#ffffff">*</text>
<text transform="translate(412.81 221.95) rotate(-90)" font-size="26" letter-spacing="1.3" text-anchor="middle" fill="#231f20">**</text>
<text transform="translate(509.53 221.65) rotate(-90)" font-size="26" letter-spacing="1.3" text-anchor="middle" fill="#231f20">*</text>
<text transform="translate(557.89 222.25) rotate(-90)" font-size="26" letter-spacing="1.3" text-anchor="middle" fill="#231f20">***</text>
<text transform="translate(896.4 221.95) rotate(-90)" font-size="26" letter-spacing="1.3" text-anchor="middle" fill="#231f20">**</text>
<text transform="translate(993.12 222.25) rotate(-90)" font-size="26" letter-spacing="1.3" text-anchor="middle" fill="#ffffff">***</text>
<text transform="translate(1089.84 221.95) rotate(-90)" font-size="26" letter-spacing="1.3" text-anchor="middle" fill="#ffffff">**</text>
<text transform="translate(1138.2 221.65) rotate(-90)" font-size="26" letter-spacing="1.3" text-anchor="middle" fill="#231f20">*</text>
<text transform="translate(1283.27 222.25) rotate(-90)" font-size="26" letter-spacing="1.3" text-anchor="middle" fill="#231f20">***</text>
<text transform="translate(1331.63 221.65) rotate(-90)" font-size="26" letter-spacing="1.3" text-anchor="middle" fill="#231f20">*</text>
<text transform="translate(1379.99 221.95) rotate(-90)" font-size="26" letter-spacing="1.3" text-anchor="middle" fill="#231f20">**</text>
<text transform="translate(1428.35 221.95) rotate(-90)" font-size="26" letter-spacing="1.3" text-anchor="middle" fill="#231f20">**</text>
<text transform="translate(1525.07 221.65) rotate(-90)" font-size="26" letter-spacing="1.3" text-anchor="middle" fill="#231f20">*</text>
<text transform="translate(1621.79 222.25) rotate(-90)" font-size="26" letter-spacing="1.3" text-anchor="middle" fill="#231f20">***</text>
<text transform="translate(1670.14 221.65) rotate(-90)" font-size="26" letter-spacing="1.3" text-anchor="middle" fill="#231f20">*</text>
<text transform="translate(1815.22 221.65) rotate(-90)" font-size="26" letter-spacing="1.3" text-anchor="middle" fill="#231f20">*</text>
<text transform="translate(1138.2 270.85) rotate(-90)" font-size="26" letter-spacing="1.3" text-anchor="middle" fill="#231f20">**</text>
<text transform="translate(1525.07 270.85) rotate(-90)" font-size="26" letter-spacing="1.3" text-anchor="middle" fill="#ffffff">**</text>
<text transform="translate(1718.5 319.45) rotate(-90)" font-size="26" letter-spacing="1.3" text-anchor="middle" fill="#231f20">*</text>
<text transform="translate(267.74 368.35) rotate(-90)" font-size="26" letter-spacing="1.3" text-anchor="middle" fill="#231f20">*</text>
<text transform="translate(316.1 369.25) rotate(-90)" font-size="26" letter-spacing="1.3" text-anchor="middle" fill="#ffffff">****</text>
<text transform="translate(1331.63 368.95) rotate(-90)" font-size="26" letter-spacing="1.3" text-anchor="middle" fill="#231f20">***</text>
<text transform="translate(1428.35 368.35) rotate(-90)" font-size="26" letter-spacing="1.3" text-anchor="middle" fill="#231f20">*</text>
<text transform="translate(1476.71 368.35) rotate(-90)" font-size="26" letter-spacing="1.3" text-anchor="middle" fill="#231f20">*</text>
<text transform="translate(1573.43 369.25) rotate(-90)" font-size="26" letter-spacing="1.3" text-anchor="middle" fill="#ffffff">****</text>
<text x="166.6" y="80.1" font-size="27" text-anchor="end" fill="#231f20" textLength="148.4" lengthAdjust="spacingAndGlyphs">PAN-cancer</text>
<text x="166.6" y="132.2" font-size="27" text-anchor="end" fill="#231f20" textLength="69.8" lengthAdjust="spacingAndGlyphs">BRAC</text>
<text x="166.6" y="182.1" font-size="27" text-anchor="end" fill="#231f20" textLength="68.6" lengthAdjust="spacingAndGlyphs">PAAD</text>
<text x="166.6" y="231.2" font-size="27" text-anchor="end" fill="#231f20" textLength="67.8" lengthAdjust="spacingAndGlyphs">PRAD</text>
<text x="166.6" y="281.1" font-size="27" text-anchor="end" fill="#231f20" textLength="88.7" lengthAdjust="spacingAndGlyphs">NSCLC</text>
<text x="166.6" y="330.9" font-size="27" text-anchor="end" fill="#231f20" textLength="75.3" lengthAdjust="spacingAndGlyphs">SKCM</text>
<text x="166.6" y="380.1" font-size="27" text-anchor="end" fill="#231f20" textLength="59.5" lengthAdjust="spacingAndGlyphs">GBM</text>
<text transform="translate(209.7 408.6) rotate(-90)" font-size="26.5" text-anchor="end" fill="#231f20" textLength="81.1" lengthAdjust="spacingAndGlyphs">B cells</text>
<text transform="translate(258.22 408.6) rotate(-90)" font-size="26.5" text-anchor="end" fill="#231f20" textLength="232.1" lengthAdjust="spacingAndGlyphs">CD56<tspan dy="-11" font-size="19">bright</tspan><tspan dy="11"> NK cells</tspan></text>
<text transform="translate(306.74 408.6) rotate(-90)" font-size="26.5" text-anchor="end" fill="#231f20" textLength="214.3" lengthAdjust="spacingAndGlyphs">CD56<tspan dy="-11" font-size="19">dim</tspan><tspan dy="11"> NK cells</tspan></text>
<text transform="translate(355.26 408.6) rotate(-90)" font-size="26.5" text-anchor="end" fill="#231f20" textLength="259.4" lengthAdjust="spacingAndGlyphs">Classical monocytes</text>
<text transform="translate(403.78 408.6) rotate(-90)" font-size="26.5" text-anchor="end" fill="#231f20" textLength="181.5" lengthAdjust="spacingAndGlyphs">Dendritic cells</text>
<text transform="translate(452.3 408.6) rotate(-90)" font-size="26.5" text-anchor="end" fill="#231f20" textLength="295.2" lengthAdjust="spacingAndGlyphs">Follicular helper T cells</text>
<text transform="translate(500.82 408.6) rotate(-90)" font-size="26.5" text-anchor="end" fill="#231f20" textLength="295.7" lengthAdjust="spacingAndGlyphs">Germinal center B cells</text>
<text transform="translate(549.34 408.6) rotate(-90)" font-size="26.5" text-anchor="end" fill="#231f20" textLength="52.7" lengthAdjust="spacingAndGlyphs">ILCs</text>
<text transform="translate(597.86 408.6) rotate(-90)" font-size="26.5" text-anchor="end" fill="#231f20" textLength="175.6" lengthAdjust="spacingAndGlyphs">Late erythroid</text>
<text transform="translate(646.38 408.6) rotate(-90)" font-size="26.5" text-anchor="end" fill="#231f20" textLength="128.7" lengthAdjust="spacingAndGlyphs">MAIT cells</text>
<text transform="translate(694.9 408.6) rotate(-90)" font-size="26.5" text-anchor="end" fill="#231f20" textLength="56" lengthAdjust="spacingAndGlyphs">MNP</text>
<text transform="translate(743.42 408.6) rotate(-90)" font-size="26.5" text-anchor="end" fill="#231f20" textLength="171.3" lengthAdjust="spacingAndGlyphs">Macrophages</text>
<text transform="translate(791.94 408.6) rotate(-90)" font-size="26.5" text-anchor="end" fill="#231f20" textLength="125.5" lengthAdjust="spacingAndGlyphs">Mast cells</text>
<text transform="translate(840.46 408.6) rotate(-90)" font-size="26.5" text-anchor="end" fill="#231f20" textLength="326.3" lengthAdjust="spacingAndGlyphs">Megakaryocytes/platelets</text>
<text transform="translate(888.98 408.6) rotate(-90)" font-size="26.5" text-anchor="end" fill="#231f20" textLength="193" lengthAdjust="spacingAndGlyphs">Memory B cells</text>
<text transform="translate(937.5 408.6) rotate(-90)" font-size="26.5" text-anchor="end" fill="#231f20" textLength="178.9" lengthAdjust="spacingAndGlyphs">Migratory DCs</text>
<text transform="translate(986.02 408.6) rotate(-90)" font-size="26.5" text-anchor="end" fill="#231f20" textLength="137.3" lengthAdjust="spacingAndGlyphs">Monocytes</text>
<text transform="translate(1034.54 408.6) rotate(-90)" font-size="26.5" text-anchor="end" fill="#231f20" textLength="143.8" lengthAdjust="spacingAndGlyphs">Myelocytes</text>
<text transform="translate(1083.06 408.6) rotate(-90)" font-size="26.5" text-anchor="end" fill="#231f20" textLength="116" lengthAdjust="spacingAndGlyphs">NKT cells</text>
<text transform="translate(1131.58 408.6) rotate(-90)" font-size="26.5" text-anchor="end" fill="#231f20" textLength="159.2" lengthAdjust="spacingAndGlyphs">Naive B cells</text>
<text transform="translate(1180.1 408.6) rotate(-90)" font-size="26.5" text-anchor="end" fill="#231f20" textLength="146.1" lengthAdjust="spacingAndGlyphs">Neutrophils</text>
<text transform="translate(1228.62 408.6) rotate(-90)" font-size="26.5" text-anchor="end" fill="#231f20" textLength="315.8" lengthAdjust="spacingAndGlyphs">Non-classical monocytes</text>
<text transform="translate(1277.14 408.6) rotate(-90)" font-size="26.5" text-anchor="end" fill="#231f20" textLength="155.9" lengthAdjust="spacingAndGlyphs">Plasma cells</text>
<text transform="translate(1325.66 408.6) rotate(-90)" font-size="26.5" text-anchor="end" fill="#231f20" textLength="225.7" lengthAdjust="spacingAndGlyphs">Regulatory T cells</text>
<text transform="translate(1374.18 408.6) rotate(-90)" font-size="26.5" text-anchor="end" fill="#231f20" textLength="294.5" lengthAdjust="spacingAndGlyphs">Cytotoxic T<tspan dy="7" font-size="19">CM/naive</tspan><tspan dy="-7"> cells</tspan></text>
<text transform="translate(1422.7 408.6) rotate(-90)" font-size="26.5" text-anchor="end" fill="#231f20" textLength="257.5" lengthAdjust="spacingAndGlyphs">Helper T<tspan dy="7" font-size="19">CM/naive</tspan><tspan dy="-7"> cells</tspan></text>
<text transform="translate(1471.22 408.6) rotate(-90)" font-size="26.5" text-anchor="end" fill="#231f20" textLength="237.9" lengthAdjust="spacingAndGlyphs">Helper T<tspan dy="7" font-size="19">EM/EFF</tspan><tspan dy="-7"> cells</tspan></text>
<text transform="translate(1519.74 408.6) rotate(-90)" font-size="26.5" text-anchor="end" fill="#231f20" textLength="294.5" lengthAdjust="spacingAndGlyphs">Cytotoxic T<tspan dy="7" font-size="19">EM/EMRA</tspan><tspan dy="-7"> cells</tspan></text>
<text transform="translate(1568.26 408.6) rotate(-90)" font-size="26.5" text-anchor="end" fill="#231f20" textLength="270.9" lengthAdjust="spacingAndGlyphs">Cytotoxic T<tspan dy="7" font-size="19">EM/RM</tspan><tspan dy="-7"> cells</tspan></text>
<text transform="translate(1616.78 408.6) rotate(-90)" font-size="26.5" text-anchor="end" fill="#231f20" textLength="237.9" lengthAdjust="spacingAndGlyphs">Cytotoxic T<tspan dy="7" font-size="19">RM</tspan><tspan dy="-7"> cells</tspan></text>
<text transform="translate(1665.3 408.6) rotate(-90)" font-size="26.5" text-anchor="end" fill="#231f20" textLength="129.6" lengthAdjust="spacingAndGlyphs">Th1 T cells</text>
<text transform="translate(1713.82 408.6) rotate(-90)" font-size="26.5" text-anchor="end" fill="#231f20" textLength="144.4" lengthAdjust="spacingAndGlyphs">Th17 T cells</text>
<text transform="translate(1762.34 408.6) rotate(-90)" font-size="26.5" text-anchor="end" fill="#231f20" textLength="111" lengthAdjust="spacingAndGlyphs">γδT cells</text>
<text transform="translate(1810.86 408.6) rotate(-90)" font-size="26.5" text-anchor="end" fill="#231f20" textLength="52.8" lengthAdjust="spacingAndGlyphs">pDC</text>
<defs><linearGradient id="cb" x1="0" y1="0" x2="0" y2="1"><stop offset="0" stop-color="#f0e52d"/><stop offset="0.09" stop-color="#c5dc3a"/><stop offset="0.17" stop-color="#8dc24f"/><stop offset="0.25" stop-color="#63b46a"/><stop offset="0.30" stop-color="#3fab6e"/><stop offset="0.35" stop-color="#05a56b"/><stop offset="0.45" stop-color="#00927e"/><stop offset="0.55" stop-color="#077f89"/><stop offset="0.62" stop-color="#0f718b"/><stop offset="0.70" stop-color="#2a6590"/><stop offset="0.78" stop-color="#3d5a95"/><stop offset="0.84" stop-color="#4a4e96"/><stop offset="0.89" stop-color="#4a3686"/><stop offset="0.95" stop-color="#43205f"/><stop offset="1" stop-color="#3a0c4a"/></linearGradient></defs>
<rect x="67.8" y="465.8" width="23.2" height="180.2" fill="url(#cb)"/>
<line x1="91" y1="483.9" x2="96.8" y2="483.9" stroke="#4d4d4d" stroke-width="1.3"/>
<text x="107.7" y="490.7" font-size="24.5" text-anchor="start" fill="#231f20" textLength="51.7" lengthAdjust="spacingAndGlyphs">0.04</text>
<line x1="91" y1="519.7" x2="96.8" y2="519.7" stroke="#4d4d4d" stroke-width="1.3"/>
<text x="107.7" y="526.5" font-size="24.5" text-anchor="start" fill="#231f20" textLength="50.3" lengthAdjust="spacingAndGlyphs">0.02</text>
<line x1="91" y1="555.5" x2="96.8" y2="555.5" stroke="#4d4d4d" stroke-width="1.3"/>
<text x="107.7" y="562.3" font-size="24.5" text-anchor="start" fill="#231f20" textLength="14.8" lengthAdjust="spacingAndGlyphs">0</text>
<line x1="91" y1="591.1" x2="96.8" y2="591.1" stroke="#4d4d4d" stroke-width="1.3"/>
<text x="107.7" y="597.9" font-size="24.5" text-anchor="start" fill="#231f20" textLength="62.4" lengthAdjust="spacingAndGlyphs">−0.02</text>
<line x1="91" y1="626.9" x2="96.8" y2="626.9" stroke="#4d4d4d" stroke-width="1.3"/>
<text x="104.1" y="633.7" font-size="24.5" text-anchor="start" fill="#231f20" textLength="62.1" lengthAdjust="spacingAndGlyphs">−0.04</text>
<text x="263.8" y="817.1" font-size="26.5" text-anchor="middle" fill="#231f20" textLength="91.4" lengthAdjust="spacingAndGlyphs">Tissues</text>
<rect x="122.45" y="1091.93" width="40.5" height="9.17" fill="#0b71b3"/>
<rect x="122.45" y="964.38" width="40.5" height="127.55" fill="#99b7da"/>
<rect x="122.45" y="921.61" width="40.5" height="42.77" fill="#6b4f8f"/>
<rect x="122.45" y="921.35" width="40.5" height="0.25" fill="#77787c"/>
<rect x="122.45" y="920.08" width="40.5" height="1.27" fill="#0f9a55"/>
<rect x="122.45" y="846.5" width="40.5" height="73.58" fill="#ed7f35"/>
<rect x="171" y="1077.68" width="40.5" height="23.42" fill="#0b71b3"/>
<rect x="171" y="1004.61" width="40.5" height="73.07" fill="#99b7da"/>
<rect x="171" y="998.75" width="40.5" height="5.86" fill="#6b4f8f"/>
<rect x="171" y="989.08" width="40.5" height="9.67" fill="#77787c"/>
<rect x="171" y="846.5" width="40.5" height="142.58" fill="#ed7f35"/>
<rect x="219.55" y="1090.92" width="40.5" height="10.18" fill="#0b71b3"/>
<rect x="219.55" y="922.63" width="40.5" height="168.29" fill="#99b7da"/>
<rect x="219.55" y="920.08" width="40.5" height="2.55" fill="#6b4f8f"/>
<rect x="219.55" y="916.01" width="40.5" height="4.07" fill="#77787c"/>
<rect x="219.55" y="915.5" width="40.5" height="0.51" fill="#0f9a55"/>
<rect x="219.55" y="846.5" width="40.5" height="69" fill="#ed7f35"/>
<rect x="268.1" y="1097.79" width="40.5" height="3.31" fill="#0b71b3"/>
<rect x="268.1" y="944.01" width="40.5" height="153.78" fill="#99b7da"/>
<rect x="268.1" y="942.99" width="40.5" height="1.02" fill="#6b4f8f"/>
<rect x="268.1" y="942.74" width="40.5" height="0.25" fill="#77787c"/>
<rect x="268.1" y="939.94" width="40.5" height="2.8" fill="#0f9a55"/>
<rect x="268.1" y="846.5" width="40.5" height="93.44" fill="#ed7f35"/>
<rect x="316.65" y="1090.92" width="40.5" height="10.18" fill="#0b71b3"/>
<rect x="316.65" y="913.97" width="40.5" height="176.95" fill="#99b7da"/>
<rect x="316.65" y="891.31" width="40.5" height="22.66" fill="#6b4f8f"/>
<rect x="316.65" y="891.06" width="40.5" height="0.25" fill="#77787c"/>
<rect x="316.65" y="889.27" width="40.5" height="1.78" fill="#0f9a55"/>
<rect x="316.65" y="846.5" width="40.5" height="42.77" fill="#ed7f35"/>
<rect x="365.2" y="1052.73" width="40.5" height="48.37" fill="#0b71b3"/>
<rect x="365.2" y="888.25" width="40.5" height="164.47" fill="#99b7da"/>
<rect x="365.2" y="881.13" width="40.5" height="7.13" fill="#6b4f8f"/>
<rect x="365.2" y="880.87" width="40.5" height="0.25" fill="#0f9a55"/>
<rect x="365.2" y="846.5" width="40.5" height="34.37" fill="#ed7f35"/>
<line x1="105.5" y1="833" x2="105.5" y2="1101.7" stroke="#231f20" stroke-width="1.3"/>
<line x1="95.9" y1="1101.1" x2="420" y2="1101.1" stroke="#4a4646" stroke-width="1.55"/>
<text x="84.1" y="1109.5" font-size="23.6" text-anchor="end" fill="#231f20" textLength="13.8" lengthAdjust="spacingAndGlyphs">0</text>
<line x1="95.9" y1="1050.18" x2="105.5" y2="1050.18" stroke="#231f20" stroke-width="1.3"/>
<text x="84.1" y="1058.58" font-size="23.6" text-anchor="end" fill="#231f20" textLength="28.2" lengthAdjust="spacingAndGlyphs">20</text>
<line x1="95.9" y1="999.26" x2="105.5" y2="999.26" stroke="#231f20" stroke-width="1.3"/>
<text x="84.1" y="1007.66" font-size="23.6" text-anchor="end" fill="#231f20" textLength="28.2" lengthAdjust="spacingAndGlyphs">40</text>
<line x1="95.9" y1="948.34" x2="105.5" y2="948.34" stroke="#231f20" stroke-width="1.3"/>
<text x="84.1" y="956.74" font-size="23.6" text-anchor="end" fill="#231f20" textLength="28.2" lengthAdjust="spacingAndGlyphs">60</text>
<line x1="95.9" y1="897.42" x2="105.5" y2="897.42" stroke="#231f20" stroke-width="1.3"/>
<text x="84.1" y="905.82" font-size="23.6" text-anchor="end" fill="#231f20" textLength="28.2" lengthAdjust="spacingAndGlyphs">80</text>
<line x1="95.9" y1="846.5" x2="105.5" y2="846.5" stroke="#231f20" stroke-width="1.3"/>
<text x="84.1" y="854.9" font-size="23.6" text-anchor="end" fill="#231f20" textLength="40" lengthAdjust="spacingAndGlyphs">100</text>
<line x1="142.7" y1="1101.1" x2="142.7" y2="1111.6" stroke="#231f20" stroke-width="1.3"/>
<text transform="translate(150.9 1123) rotate(-90)" font-size="28.5" text-anchor="end" fill="#231f20" textLength="113.1" lengthAdjust="spacingAndGlyphs">Pancreas</text>
<line x1="191.25" y1="1101.1" x2="191.25" y2="1111.6" stroke="#231f20" stroke-width="1.3"/>
<text transform="translate(199.45 1123) rotate(-90)" font-size="28.5" text-anchor="end" fill="#231f20" textLength="62.8" lengthAdjust="spacingAndGlyphs">Lung</text>
<line x1="239.8" y1="1101.1" x2="239.8" y2="1111.6" stroke="#231f20" stroke-width="1.3"/>
<text transform="translate(248 1123) rotate(-90)" font-size="28.5" text-anchor="end" fill="#231f20" textLength="78.5" lengthAdjust="spacingAndGlyphs">Breast</text>
<line x1="288.35" y1="1101.1" x2="288.35" y2="1111.6" stroke="#231f20" stroke-width="1.3"/>
<text transform="translate(296.55 1123) rotate(-90)" font-size="28.5" text-anchor="end" fill="#231f20" textLength="53.1" lengthAdjust="spacingAndGlyphs">Skin</text>
<line x1="336.9" y1="1101.1" x2="336.9" y2="1111.6" stroke="#231f20" stroke-width="1.3"/>
<text transform="translate(345.1 1123) rotate(-90)" font-size="28.5" text-anchor="end" fill="#231f20" textLength="102.2" lengthAdjust="spacingAndGlyphs">Prostate</text>
<line x1="385.45" y1="1101.1" x2="385.45" y2="1111.6" stroke="#231f20" stroke-width="1.3"/>
<text transform="translate(393.65 1123) rotate(-90)" font-size="28.5" text-anchor="end" fill="#231f20" textLength="63.6" lengthAdjust="spacingAndGlyphs">Brain</text>
<text transform="translate(23 967.2) rotate(-90)" font-size="27" text-anchor="middle" fill="#231f20" textLength="131.8" lengthAdjust="spacingAndGlyphs">Proportion</text>
<rect x="430" y="869" width="23.8" height="23.4" fill="#0b71b3"/>
<text x="468" y="889.7" font-size="26.5" text-anchor="start" fill="#231f20" textLength="103.8" lengthAdjust="spacingAndGlyphs">NK cells</text>
<rect x="430" y="907.15" width="23.8" height="23.4" fill="#99b7da"/>
<text x="468" y="927.85" font-size="26.5" text-anchor="start" fill="#231f20" textLength="80.8" lengthAdjust="spacingAndGlyphs">T cells</text>
<rect x="430" y="945.3" width="23.8" height="23.4" fill="#6b4f8f"/>
<text x="468" y="966" font-size="26.5" text-anchor="start" fill="#231f20" textLength="83.5" lengthAdjust="spacingAndGlyphs">B cells</text>
<rect x="430" y="983.45" width="23.8" height="23.4" fill="#77787c"/>
<text x="468" y="1004.15" font-size="26.5" text-anchor="start" fill="#231f20" textLength="118" lengthAdjust="spacingAndGlyphs">NKT cells</text>
<rect x="430" y="1021.6" width="23.8" height="23.4" fill="#0f9a55"/>
<text x="468" y="1042.3" font-size="26.5" text-anchor="start" fill="#231f20" textLength="40.8" lengthAdjust="spacingAndGlyphs">ILC</text>
<rect x="430" y="1059.75" width="23.8" height="23.4" fill="#ed7f35"/>
<text x="468" y="1080.45" font-size="26.5" text-anchor="start" fill="#231f20" textLength="99.4" lengthAdjust="spacingAndGlyphs">Myeloid</text>
<text x="287.9" y="1307.2" font-size="26.5" text-anchor="middle" fill="#231f20" textLength="95" lengthAdjust="spacingAndGlyphs">Tumors</text>
<rect x="122.25" y="1577.94" width="40.3" height="5.86" fill="#0b71b3"/>
<rect x="122.25" y="1537.21" width="40.3" height="40.74" fill="#99b7da"/>
<rect x="122.25" y="1530.33" width="40.3" height="6.87" fill="#6b4f8f"/>
<rect x="122.25" y="1525.75" width="40.3" height="4.58" fill="#77787c"/>
<rect x="122.25" y="1329.2" width="40.3" height="196.55" fill="#ed7f35"/>
<rect x="170.75" y="1578.96" width="40.3" height="4.84" fill="#0b71b3"/>
<rect x="170.75" y="1472.29" width="40.3" height="106.68" fill="#99b7da"/>
<rect x="170.75" y="1440.46" width="40.3" height="31.82" fill="#6b4f8f"/>
<rect x="170.75" y="1440.21" width="40.3" height="0.25" fill="#77787c"/>
<rect x="170.75" y="1439.44" width="40.3" height="0.76" fill="#0f9a55"/>
<rect x="170.75" y="1329.2" width="40.3" height="110.24" fill="#ed7f35"/>
<rect x="219.25" y="1573.62" width="40.3" height="10.18" fill="#0b71b3"/>
<rect x="219.25" y="1464.65" width="40.3" height="108.97" fill="#99b7da"/>
<rect x="219.25" y="1422.64" width="40.3" height="42.01" fill="#6b4f8f"/>
<rect x="219.25" y="1419.84" width="40.3" height="2.8" fill="#77787c"/>
<rect x="219.25" y="1418.82" width="40.3" height="1.02" fill="#0f9a55"/>
<rect x="219.25" y="1329.2" width="40.3" height="89.62" fill="#ed7f35"/>
<rect x="267.75" y="1576.93" width="40.3" height="6.87" fill="#0b71b3"/>
<rect x="267.75" y="1433.33" width="40.3" height="143.59" fill="#99b7da"/>
<rect x="267.75" y="1386.49" width="40.3" height="46.85" fill="#6b4f8f"/>
<rect x="267.75" y="1385.21" width="40.3" height="1.27" fill="#77787c"/>
<rect x="267.75" y="1384.19" width="40.3" height="1.02" fill="#0f9a55"/>
<rect x="267.75" y="1329.2" width="40.3" height="54.99" fill="#ed7f35"/>
<rect x="316.25" y="1513.79" width="40.3" height="70.01" fill="#0b71b3"/>
<rect x="316.25" y="1374.26" width="40.3" height="139.52" fill="#99b7da"/>
<rect x="316.25" y="1344.48" width="40.3" height="29.79" fill="#6b4f8f"/>
<rect x="316.25" y="1344.22" width="40.3" height="0.25" fill="#77787c"/>
<rect x="316.25" y="1338.87" width="40.3" height="5.35" fill="#0f9a55"/>
<rect x="316.25" y="1329.2" width="40.3" height="9.67" fill="#ed7f35"/>
<rect x="364.75" y="1576.42" width="40.3" height="7.38" fill="#0b71b3"/>
<rect x="364.75" y="1420.09" width="40.3" height="156.32" fill="#99b7da"/>
<rect x="364.75" y="1406.09" width="40.3" height="14" fill="#6b4f8f"/>
<rect x="364.75" y="1405.83" width="40.3" height="0.25" fill="#77787c"/>
<rect x="364.75" y="1405.07" width="40.3" height="0.76" fill="#0f9a55"/>
<rect x="364.75" y="1329.2" width="40.3" height="75.87" fill="#ed7f35"/>
<rect x="413.25" y="1579.98" width="40.3" height="3.82" fill="#0b71b3"/>
<rect x="413.25" y="1519.39" width="40.3" height="60.59" fill="#99b7da"/>
<rect x="413.25" y="1517.6" width="40.3" height="1.78" fill="#6b4f8f"/>
<rect x="413.25" y="1329.2" width="40.3" height="188.4" fill="#ed7f35"/>
<line x1="105.5" y1="1316" x2="105.5" y2="1584.4" stroke="#231f20" stroke-width="1.3"/>
<line x1="95.9" y1="1583.8" x2="471.2" y2="1583.8" stroke="#4a4646" stroke-width="1.55"/>
<text x="84.1" y="1592.2" font-size="23.6" text-anchor="end" fill="#231f20" textLength="13.8" lengthAdjust="spacingAndGlyphs">0</text>
<line x1="95.9" y1="1532.88" x2="105.5" y2="1532.88" stroke="#231f20" stroke-width="1.3"/>
<text x="84.1" y="1541.28" font-size="23.6" text-anchor="end" fill="#231f20" textLength="28.2" lengthAdjust="spacingAndGlyphs">20</text>
<line x1="95.9" y1="1481.96" x2="105.5" y2="1481.96" stroke="#231f20" stroke-width="1.3"/>
<text x="84.1" y="1490.36" font-size="23.6" text-anchor="end" fill="#231f20" textLength="28.2" lengthAdjust="spacingAndGlyphs">40</text>
<line x1="95.9" y1="1431.04" x2="105.5" y2="1431.04" stroke="#231f20" stroke-width="1.3"/>
<text x="84.1" y="1439.44" font-size="23.6" text-anchor="end" fill="#231f20" textLength="28.2" lengthAdjust="spacingAndGlyphs">60</text>
<line x1="95.9" y1="1380.12" x2="105.5" y2="1380.12" stroke="#231f20" stroke-width="1.3"/>
<text x="84.1" y="1388.52" font-size="23.6" text-anchor="end" fill="#231f20" textLength="28.2" lengthAdjust="spacingAndGlyphs">80</text>
<line x1="95.9" y1="1329.2" x2="105.5" y2="1329.2" stroke="#231f20" stroke-width="1.3"/>
<text x="84.1" y="1337.6" font-size="23.6" text-anchor="end" fill="#231f20" textLength="40" lengthAdjust="spacingAndGlyphs">100</text>
<line x1="142.4" y1="1583.8" x2="142.4" y2="1594.3" stroke="#231f20" stroke-width="1.3"/>
<text transform="translate(150.6 1605) rotate(-90)" font-size="28.5" text-anchor="end" fill="#231f20" textLength="71.2" lengthAdjust="spacingAndGlyphs">SARC</text>
<line x1="190.9" y1="1583.8" x2="190.9" y2="1594.3" stroke="#231f20" stroke-width="1.3"/>
<text transform="translate(199.1 1605) rotate(-90)" font-size="28.5" text-anchor="end" fill="#231f20" textLength="69.4" lengthAdjust="spacingAndGlyphs">PAAD</text>
<line x1="239.4" y1="1583.8" x2="239.4" y2="1594.3" stroke="#231f20" stroke-width="1.3"/>
<text transform="translate(247.6 1605) rotate(-90)" font-size="28.5" text-anchor="end" fill="#231f20" textLength="88.6" lengthAdjust="spacingAndGlyphs">NSCLC</text>
<line x1="287.9" y1="1583.8" x2="287.9" y2="1594.3" stroke="#231f20" stroke-width="1.3"/>
<text transform="translate(296.1 1605) rotate(-90)" font-size="28.5" text-anchor="end" fill="#231f20" textLength="70.1" lengthAdjust="spacingAndGlyphs">BRAC</text>
<line x1="336.4" y1="1583.8" x2="336.4" y2="1594.3" stroke="#231f20" stroke-width="1.3"/>
<text transform="translate(344.6 1605) rotate(-90)" font-size="28.5" text-anchor="end" fill="#231f20" textLength="74.6" lengthAdjust="spacingAndGlyphs">SKCM</text>
<line x1="384.9" y1="1583.8" x2="384.9" y2="1594.3" stroke="#231f20" stroke-width="1.3"/>
<text transform="translate(393.1 1605) rotate(-90)" font-size="28.5" text-anchor="end" fill="#231f20" textLength="68.7" lengthAdjust="spacingAndGlyphs">PRAD</text>
<line x1="433.4" y1="1583.8" x2="433.4" y2="1594.3" stroke="#231f20" stroke-width="1.3"/>
<text transform="translate(441.6 1605) rotate(-90)" font-size="28.5" text-anchor="end" fill="#231f20" textLength="60.7" lengthAdjust="spacingAndGlyphs">GBM</text>
<text transform="translate(23 1450.2) rotate(-90)" font-size="27" text-anchor="middle" fill="#231f20" textLength="132.2" lengthAdjust="spacingAndGlyphs">Proportion</text>
<rect x="473" y="1350.2" width="23.3" height="23.4" fill="#0b71b3"/>
<text x="511" y="1370.9" font-size="26.5" text-anchor="start" fill="#231f20" textLength="102.6" lengthAdjust="spacingAndGlyphs">NK cells</text>
<rect x="473" y="1388.2" width="23.3" height="23.4" fill="#99b7da"/>
<text x="511" y="1408.9" font-size="26.5" text-anchor="start" fill="#231f20" textLength="80.9" lengthAdjust="spacingAndGlyphs">T cells</text>
<rect x="473" y="1426.2" width="23.3" height="23.4" fill="#6b4f8f"/>
<text x="511" y="1446.9" font-size="26.5" text-anchor="start" fill="#231f20" textLength="82.7" lengthAdjust="spacingAndGlyphs">B cells</text>
<rect x="473" y="1464.2" width="23.3" height="23.4" fill="#77787c"/>
<text x="511" y="1484.9" font-size="26.5" text-anchor="start" fill="#231f20" textLength="118.3" lengthAdjust="spacingAndGlyphs">NKT cells</text>
<rect x="473" y="1502.2" width="23.3" height="23.4" fill="#0f9a55"/>
<text x="511" y="1522.9" font-size="26.5" text-anchor="start" fill="#231f20" textLength="40.7" lengthAdjust="spacingAndGlyphs">ILC</text>
<rect x="473" y="1540.2" width="23.3" height="23.4" fill="#ed7f35"/>
<text x="511" y="1560.9" font-size="26.5" text-anchor="start" fill="#231f20" textLength="99.1" lengthAdjust="spacingAndGlyphs">Myeloid</text>
<text x="949.6" y="817.1" font-size="26.5" text-anchor="middle" fill="#231f20" textLength="91.7" lengthAdjust="spacingAndGlyphs">Tissues</text>
<rect x="783.75" y="1081.6" width="40.5" height="19.4" fill="#0b71b3"/>
<rect x="783.75" y="1032.32" width="40.5" height="49.27" fill="#d92231"/>
<rect x="783.75" y="885.78" width="40.5" height="146.54" fill="#149a4e"/>
<rect x="783.75" y="862.55" width="40.5" height="23.23" fill="#d378a8"/>
<rect x="783.75" y="845.7" width="40.5" height="16.85" fill="#ed7f35"/>
<rect x="832.25" y="1056.83" width="40.5" height="44.17" fill="#0b71b3"/>
<rect x="832.25" y="943.74" width="40.5" height="113.1" fill="#d92231"/>
<rect x="832.25" y="876.08" width="40.5" height="67.65" fill="#149a4e"/>
<rect x="832.25" y="845.7" width="40.5" height="30.38" fill="#d378a8"/>
<rect x="880.75" y="1090.28" width="40.5" height="10.72" fill="#0b71b3"/>
<rect x="880.75" y="1060.15" width="40.5" height="30.13" fill="#d92231"/>
<rect x="880.75" y="899.57" width="40.5" height="160.58" fill="#149a4e"/>
<rect x="880.75" y="845.7" width="40.5" height="53.87" fill="#d378a8"/>
<rect x="929.25" y="1095.89" width="40.5" height="5.11" fill="#0b71b3"/>
<rect x="929.25" y="1054.79" width="40.5" height="41.1" fill="#d92231"/>
<rect x="929.25" y="865.36" width="40.5" height="189.43" fill="#149a4e"/>
<rect x="929.25" y="845.7" width="40.5" height="19.66" fill="#d378a8"/>
<rect x="977.75" y="979.99" width="40.5" height="121.01" fill="#0b71b3"/>
<rect x="977.75" y="952.93" width="40.5" height="27.06" fill="#d92231"/>
<rect x="977.75" y="877.1" width="40.5" height="75.82" fill="#149a4e"/>
<rect x="977.75" y="845.7" width="40.5" height="31.4" fill="#d378a8"/>
<rect x="1026.25" y="965.44" width="40.5" height="135.56" fill="#0b71b3"/>
<rect x="1026.25" y="910.8" width="40.5" height="54.63" fill="#d92231"/>
<rect x="1026.25" y="853.87" width="40.5" height="56.93" fill="#149a4e"/>
<rect x="1026.25" y="845.7" width="40.5" height="8.17" fill="#d378a8"/>
<rect x="1074.75" y="1095.89" width="40.5" height="5.11" fill="#0b71b3"/>
<rect x="1074.75" y="865.1" width="40.5" height="230.79" fill="#d92231"/>
<rect x="1074.75" y="845.7" width="40.5" height="19.4" fill="#149a4e"/>
<line x1="766.5" y1="833.5" x2="766.5" y2="1101.6" stroke="#231f20" stroke-width="1.3"/>
<line x1="757.1" y1="1101" x2="1132.1" y2="1101" stroke="#4a4646" stroke-width="1.55"/>
<text x="745.1" y="1109.4" font-size="23.6" text-anchor="end" fill="#231f20" textLength="13.8" lengthAdjust="spacingAndGlyphs">0</text>
<line x1="756.9" y1="1049.94" x2="766.5" y2="1049.94" stroke="#231f20" stroke-width="1.3"/>
<text x="745.1" y="1058.34" font-size="23.6" text-anchor="end" fill="#231f20" textLength="28.2" lengthAdjust="spacingAndGlyphs">20</text>
<line x1="756.9" y1="998.88" x2="766.5" y2="998.88" stroke="#231f20" stroke-width="1.3"/>
<text x="745.1" y="1007.28" font-size="23.6" text-anchor="end" fill="#231f20" textLength="28.2" lengthAdjust="spacingAndGlyphs">40</text>
<line x1="756.9" y1="947.82" x2="766.5" y2="947.82" stroke="#231f20" stroke-width="1.3"/>
<text x="745.1" y="956.22" font-size="23.6" text-anchor="end" fill="#231f20" textLength="28.2" lengthAdjust="spacingAndGlyphs">60</text>
<line x1="756.9" y1="896.76" x2="766.5" y2="896.76" stroke="#231f20" stroke-width="1.3"/>
<text x="745.1" y="905.16" font-size="23.6" text-anchor="end" fill="#231f20" textLength="28.2" lengthAdjust="spacingAndGlyphs">80</text>
<line x1="756.9" y1="845.7" x2="766.5" y2="845.7" stroke="#231f20" stroke-width="1.3"/>
<text x="745.1" y="854.1" font-size="23.6" text-anchor="end" fill="#231f20" textLength="40" lengthAdjust="spacingAndGlyphs">100</text>
<line x1="804" y1="1101" x2="804" y2="1111.5" stroke="#231f20" stroke-width="1.3"/>
<text transform="translate(812.2 1123) rotate(-90)" font-size="28.5" text-anchor="end" fill="#231f20" textLength="72.5" lengthAdjust="spacingAndGlyphs">Blood</text>
<line x1="852.5" y1="1101" x2="852.5" y2="1111.5" stroke="#231f20" stroke-width="1.3"/>
<text transform="translate(860.7 1123) rotate(-90)" font-size="28.5" text-anchor="end" fill="#231f20" textLength="112.2" lengthAdjust="spacingAndGlyphs">Pancreas</text>
<line x1="901" y1="1101" x2="901" y2="1111.5" stroke="#231f20" stroke-width="1.3"/>
<text transform="translate(909.2 1123) rotate(-90)" font-size="28.5" text-anchor="end" fill="#231f20" textLength="61.7" lengthAdjust="spacingAndGlyphs">Lung</text>
<line x1="949.5" y1="1101" x2="949.5" y2="1111.5" stroke="#231f20" stroke-width="1.3"/>
<text transform="translate(957.7 1123) rotate(-90)" font-size="28.5" text-anchor="end" fill="#231f20" textLength="76.8" lengthAdjust="spacingAndGlyphs">Breast</text>
<line x1="998" y1="1101" x2="998" y2="1111.5" stroke="#231f20" stroke-width="1.3"/>
<text transform="translate(1006.2 1123) rotate(-90)" font-size="28.5" text-anchor="end" fill="#231f20" textLength="51.8" lengthAdjust="spacingAndGlyphs">Skin</text>
<line x1="1046.5" y1="1101" x2="1046.5" y2="1111.5" stroke="#231f20" stroke-width="1.3"/>
<text transform="translate(1054.7 1123) rotate(-90)" font-size="28.5" text-anchor="end" fill="#231f20" textLength="102" lengthAdjust="spacingAndGlyphs">Prostate</text>
<line x1="1095" y1="1101" x2="1095" y2="1111.5" stroke="#231f20" stroke-width="1.3"/>
<text transform="translate(1103.2 1123) rotate(-90)" font-size="28.5" text-anchor="end" fill="#231f20" textLength="62.2" lengthAdjust="spacingAndGlyphs">Brain</text>
<text transform="translate(683.8 967.2) rotate(-90)" font-size="27" text-anchor="middle" fill="#231f20" textLength="131.8" lengthAdjust="spacingAndGlyphs">Proportion</text>
<rect x="1138.9" y="879.3" width="23.9" height="23.6" fill="#0b71b3"/>
<text x="1177.2" y="899.6" font-size="26.5" text-anchor="start" fill="#231f20" textLength="124" lengthAdjust="spacingAndGlyphs">CD56<tspan dy="-11.5" font-size="20">bright</tspan></text>
<rect x="1138.9" y="919.55" width="23.9" height="23.6" fill="#d92231"/>
<text x="1177.2" y="939.85" font-size="26.5" text-anchor="start" fill="#231f20" textLength="174.5" lengthAdjust="spacingAndGlyphs">Early CD56<tspan dy="-11.5" font-size="20">dim</tspan></text>
<rect x="1138.9" y="959.8" width="23.9" height="23.6" fill="#00935f"/>
<text x="1177.2" y="980.1" font-size="26.5" text-anchor="start" fill="#231f20" textLength="152.2" lengthAdjust="spacingAndGlyphs">Int. CD56<tspan dy="-11.5" font-size="20">dim</tspan></text>
<rect x="1138.9" y="1000.05" width="23.9" height="23.6" fill="#d378a8"/>
<text x="1177.2" y="1020.35" font-size="26.5" text-anchor="start" fill="#231f20" textLength="165.3" lengthAdjust="spacingAndGlyphs">Late CD56<tspan dy="-11.5" font-size="20">dim</tspan></text>
<rect x="1138.9" y="1040.3" width="23.9" height="23.6" fill="#e96b35"/>
<text x="1177.2" y="1060.6" font-size="26.5" text-anchor="start" fill="#231f20" textLength="112.6" lengthAdjust="spacingAndGlyphs">Adaptive</text>
<text x="949.8" y="1307.2" font-size="26.5" text-anchor="middle" fill="#231f20" textLength="93.6" lengthAdjust="spacingAndGlyphs">Tumors</text>
<rect x="783.75" y="1523.52" width="40.5" height="60.48" fill="#0b71b3"/>
<rect x="783.75" y="1488.04" width="40.5" height="35.47" fill="#d92231"/>
<rect x="783.75" y="1352.02" width="40.5" height="136.02" fill="#149a4e"/>
<rect x="783.75" y="1328.8" width="40.5" height="23.22" fill="#d378a8"/>
<rect x="832.25" y="1514.84" width="40.5" height="69.16" fill="#0b71b3"/>
<rect x="832.25" y="1399.49" width="40.5" height="115.35" fill="#d92231"/>
<rect x="832.25" y="1339.01" width="40.5" height="60.48" fill="#149a4e"/>
<rect x="832.25" y="1328.8" width="40.5" height="10.21" fill="#d378a8"/>
<rect x="880.75" y="1491.87" width="40.5" height="92.13" fill="#0b71b3"/>
<rect x="880.75" y="1469.67" width="40.5" height="22.2" fill="#d92231"/>
<rect x="880.75" y="1361.72" width="40.5" height="107.95" fill="#149a4e"/>
<rect x="880.75" y="1328.8" width="40.5" height="32.92" fill="#d378a8"/>
<rect x="929.25" y="1392.86" width="40.5" height="191.14" fill="#0b71b3"/>
<rect x="929.25" y="1374.74" width="40.5" height="18.12" fill="#d92231"/>
<rect x="929.25" y="1339.01" width="40.5" height="35.73" fill="#149a4e"/>
<rect x="929.25" y="1328.8" width="40.5" height="10.21" fill="#d378a8"/>
<rect x="977.75" y="1432.92" width="40.5" height="151.08" fill="#0b71b3"/>
<rect x="977.75" y="1412.25" width="40.5" height="20.67" fill="#d92231"/>
<rect x="977.75" y="1369.63" width="40.5" height="42.62" fill="#149a4e"/>
<rect x="977.75" y="1328.8" width="40.5" height="40.83" fill="#d378a8"/>
<rect x="1026.25" y="1493.91" width="40.5" height="90.09" fill="#0b71b3"/>
<rect x="1026.25" y="1455.38" width="40.5" height="38.54" fill="#d92231"/>
<rect x="1026.25" y="1365.04" width="40.5" height="90.34" fill="#149a4e"/>
<rect x="1026.25" y="1328.8" width="40.5" height="36.24" fill="#d378a8"/>
<rect x="1074.75" y="1411.48" width="40.5" height="172.52" fill="#0b71b3"/>
<rect x="1074.75" y="1376.27" width="40.5" height="35.22" fill="#d92231"/>
<rect x="1074.75" y="1333.39" width="40.5" height="42.87" fill="#149a4e"/>
<rect x="1074.75" y="1328.8" width="40.5" height="4.59" fill="#d378a8"/>
<line x1="766.5" y1="1317" x2="766.5" y2="1584.6" stroke="#231f20" stroke-width="1.3"/>
<line x1="757.1" y1="1584" x2="1132.1" y2="1584" stroke="#4a4646" stroke-width="1.55"/>
<text x="745.1" y="1592.4" font-size="23.6" text-anchor="end" fill="#231f20" textLength="13.8" lengthAdjust="spacingAndGlyphs">0</text>
<line x1="756.9" y1="1532.96" x2="766.5" y2="1532.96" stroke="#231f20" stroke-width="1.3"/>
<text x="745.1" y="1541.36" font-size="23.6" text-anchor="end" fill="#231f20" textLength="28.2" lengthAdjust="spacingAndGlyphs">20</text>
<line x1="756.9" y1="1481.92" x2="766.5" y2="1481.92" stroke="#231f20" stroke-width="1.3"/>
<text x="745.1" y="1490.32" font-size="23.6" text-anchor="end" fill="#231f20" textLength="28.2" lengthAdjust="spacingAndGlyphs">40</text>
<line x1="756.9" y1="1430.88" x2="766.5" y2="1430.88" stroke="#231f20" stroke-width="1.3"/>
<text x="745.1" y="1439.28" font-size="23.6" text-anchor="end" fill="#231f20" textLength="28.2" lengthAdjust="spacingAndGlyphs">60</text>
<line x1="756.9" y1="1379.84" x2="766.5" y2="1379.84" stroke="#231f20" stroke-width="1.3"/>
<text x="745.1" y="1388.24" font-size="23.6" text-anchor="end" fill="#231f20" textLength="28.2" lengthAdjust="spacingAndGlyphs">80</text>
<line x1="756.9" y1="1328.8" x2="766.5" y2="1328.8" stroke="#231f20" stroke-width="1.3"/>
<text x="745.1" y="1337.2" font-size="23.6" text-anchor="end" fill="#231f20" textLength="40" lengthAdjust="spacingAndGlyphs">100</text>
<line x1="804" y1="1584" x2="804" y2="1594.5" stroke="#231f20" stroke-width="1.3"/>
<text transform="translate(812.2 1605) rotate(-90)" font-size="28.5" text-anchor="end" fill="#231f20" textLength="70.8" lengthAdjust="spacingAndGlyphs">SARC</text>
<line x1="852.5" y1="1584" x2="852.5" y2="1594.5" stroke="#231f20" stroke-width="1.3"/>
<text transform="translate(860.7 1605) rotate(-90)" font-size="28.5" text-anchor="end" fill="#231f20" textLength="70.1" lengthAdjust="spacingAndGlyphs">PAAD</text>
<line x1="901" y1="1584" x2="901" y2="1594.5" stroke="#231f20" stroke-width="1.3"/>
<text transform="translate(909.2 1605) rotate(-90)" font-size="28.5" text-anchor="end" fill="#231f20" textLength="89.7" lengthAdjust="spacingAndGlyphs">NSCLC</text>
<line x1="949.5" y1="1584" x2="949.5" y2="1594.5" stroke="#231f20" stroke-width="1.3"/>
<text transform="translate(957.7 1605) rotate(-90)" font-size="28.5" text-anchor="end" fill="#231f20" textLength="70.2" lengthAdjust="spacingAndGlyphs">BRAC</text>
<line x1="998" y1="1584" x2="998" y2="1594.5" stroke="#231f20" stroke-width="1.3"/>
<text transform="translate(1006.2 1605) rotate(-90)" font-size="28.5" text-anchor="end" fill="#231f20" textLength="76" lengthAdjust="spacingAndGlyphs">SKCM</text>
<line x1="1046.5" y1="1584" x2="1046.5" y2="1594.5" stroke="#231f20" stroke-width="1.3"/>
<text transform="translate(1054.7 1605) rotate(-90)" font-size="28.5" text-anchor="end" fill="#231f20" textLength="69.2" lengthAdjust="spacingAndGlyphs">PRAD</text>
<line x1="1095" y1="1584" x2="1095" y2="1594.5" stroke="#231f20" stroke-width="1.3"/>
<text transform="translate(1103.2 1605) rotate(-90)" font-size="28.5" text-anchor="end" fill="#231f20" textLength="59" lengthAdjust="spacingAndGlyphs">GBM</text>
<text transform="translate(683.8 1450.2) rotate(-90)" font-size="27" text-anchor="middle" fill="#231f20" textLength="132.2" lengthAdjust="spacingAndGlyphs">Proportion</text>
<rect x="1138.9" y="1364.2" width="23.9" height="23.6" fill="#0b71b3"/>
<text x="1177.2" y="1384.5" font-size="26.5" text-anchor="start" fill="#231f20" textLength="124" lengthAdjust="spacingAndGlyphs">CD56<tspan dy="-11.5" font-size="20">bright</tspan></text>
<rect x="1138.9" y="1404.6" width="23.9" height="23.6" fill="#d92231"/>
<text x="1177.2" y="1424.9" font-size="26.5" text-anchor="start" fill="#231f20" textLength="174.5" lengthAdjust="spacingAndGlyphs">Early CD56<tspan dy="-11.5" font-size="20">dim</tspan></text>
<rect x="1138.9" y="1445" width="23.9" height="23.6" fill="#00935f"/>
<text x="1177.2" y="1465.3" font-size="26.5" text-anchor="start" fill="#231f20" textLength="152.2" lengthAdjust="spacingAndGlyphs">Int. CD56<tspan dy="-11.5" font-size="20">dim</tspan></text>
<rect x="1138.9" y="1485.4" width="23.9" height="23.6" fill="#d378a8"/>
<text x="1177.2" y="1505.7" font-size="26.5" text-anchor="start" fill="#231f20" textLength="165.3" lengthAdjust="spacingAndGlyphs">Late CD56<tspan dy="-11.5" font-size="20">dim</tspan></text>
<rect x="1138.9" y="1525.8" width="23.9" height="23.6" fill="#e96b35"/>
<text x="1177.2" y="1546.1" font-size="26.5" text-anchor="start" fill="#231f20" textLength="112.6" lengthAdjust="spacingAndGlyphs">Adaptive</text>
<rect x="1516.3" y="1076.74" width="44.9" height="18.56" fill="#c9c9c9" stroke="#b9b9b9" stroke-width="1"/>
<rect x="1584.2" y="984.92" width="45.4" height="110.38" fill="#c9c9c9" stroke="#b9b9b9" stroke-width="1"/>
<line x1="1606.9" y1="914.92" x2="1606.9" y2="1054.27" stroke="#8c8c8c" stroke-width="1.5"/>
<line x1="1595.8" y1="914.92" x2="1618.8" y2="914.92" stroke="#8c8c8c" stroke-width="1.5"/>
<line x1="1595.8" y1="1054.27" x2="1618.8" y2="1054.27" stroke="#8c8c8c" stroke-width="1.5"/>
<line x1="1538.9" y1="1068.3" x2="1538.9" y2="1078" stroke="#8c8c8c" stroke-width="1.5"/>
<line x1="1537.2" y1="1068.3" x2="1540.6" y2="1068.3" stroke="#8c8c8c" stroke-width="1.5"/>
<circle cx="1606.91" cy="861.97" r="3.75" fill="#231f20"/>
<circle cx="1600.53" cy="886.35" r="3.75" fill="#231f20"/>
<circle cx="1613.28" cy="891.06" r="3.75" fill="#231f20"/>
<circle cx="1606.91" cy="904.08" r="3.75" fill="#231f20"/>
<circle cx="1600.53" cy="918.49" r="3.75" fill="#231f20"/>
<circle cx="1613.28" cy="922.93" r="3.75" fill="#231f20"/>
<circle cx="1600.53" cy="928.74" r="3.75" fill="#231f20"/>
<circle cx="1613.28" cy="935.12" r="3.75" fill="#231f20"/>
<circle cx="1606.91" cy="957.28" r="3.75" fill="#231f20"/>
<circle cx="1587.51" cy="965.87" r="3.75" fill="#231f20"/>
<circle cx="1600.53" cy="966.43" r="3.75" fill="#231f20"/>
<circle cx="1613.28" cy="970.58" r="3.75" fill="#231f20"/>
<circle cx="1626.3" cy="965.87" r="3.75" fill="#231f20"/>
<circle cx="1600.53" cy="975.57" r="3.75" fill="#231f20"/>
<circle cx="1600.53" cy="1008.55" r="3.75" fill="#231f20"/>
<circle cx="1613.28" cy="1008.55" r="3.75" fill="#231f20"/>
<circle cx="1600.53" cy="1018.24" r="3.75" fill="#231f20"/>
<circle cx="1613.28" cy="1021.29" r="3.75" fill="#231f20"/>
<circle cx="1606.91" cy="1031.54" r="3.75" fill="#231f20"/>
<circle cx="1593.88" cy="1068.12" r="3.75" fill="#231f20"/>
<circle cx="1606.91" cy="1073.11" r="3.75" fill="#231f20"/>
<circle cx="1619.93" cy="1072.55" r="3.75" fill="#231f20"/>
<circle cx="1593.88" cy="1090.56" r="3.75" fill="#231f20"/>
<circle cx="1606.91" cy="1086.41" r="3.75" fill="#231f20"/>
<circle cx="1619.93" cy="1090.56" r="3.75" fill="#231f20"/>
<circle cx="1534" cy="1061.7" r="3.75" fill="#231f20"/>
<circle cx="1519.9" cy="1071" r="3.75" fill="#231f20"/>
<circle cx="1524.3" cy="1069.6" r="3.75" fill="#231f20"/>
<circle cx="1529.2" cy="1067" r="3.75" fill="#231f20"/>
<circle cx="1533.2" cy="1071" r="3.75" fill="#231f20"/>
<circle cx="1542.9" cy="1071" r="3.75" fill="#231f20"/>
<circle cx="1548.2" cy="1066.1" r="3.75" fill="#231f20"/>
<circle cx="1553.1" cy="1071.8" r="3.75" fill="#231f20"/>
<circle cx="1557.9" cy="1071" r="3.75" fill="#231f20"/>
<circle cx="1529.2" cy="1075.8" r="3.75" fill="#231f20"/>
<circle cx="1547.7" cy="1074.9" r="3.75" fill="#231f20"/>
<circle cx="1524.3" cy="1086.4" r="3.75" fill="#231f20"/>
<circle cx="1529.2" cy="1084.7" r="3.75" fill="#231f20"/>
<circle cx="1534" cy="1085.6" r="3.75" fill="#231f20"/>
<circle cx="1538.9" cy="1084.7" r="3.75" fill="#231f20"/>
<circle cx="1543.3" cy="1080.2" r="3.75" fill="#231f20"/>
<circle cx="1543.3" cy="1088.2" r="3.75" fill="#231f20"/>
<circle cx="1547.7" cy="1083.8" r="3.75" fill="#231f20"/>
<circle cx="1553.1" cy="1087.3" r="3.75" fill="#231f20"/>
<line x1="1493.5" y1="834.2" x2="1493.5" y2="1095.9" stroke="#231f20" stroke-width="1.3"/>
<line x1="1483.6" y1="1095.3" x2="1652.6" y2="1095.3" stroke="#231f20" stroke-width="1.4"/>
<line x1="1483.6" y1="1095.3" x2="1493.5" y2="1095.3" stroke="#231f20" stroke-width="1.3"/>
<text x="1471.9" y="1103.7" font-size="23.6" text-anchor="end" fill="#231f20" textLength="13.8" lengthAdjust="spacingAndGlyphs">0</text>
<line x1="1483.6" y1="1030.18" x2="1493.5" y2="1030.18" stroke="#231f20" stroke-width="1.3"/>
<text x="1471.9" y="1038.58" font-size="23.6" text-anchor="end" fill="#231f20" textLength="28.2" lengthAdjust="spacingAndGlyphs">20</text>
<line x1="1483.6" y1="965.06" x2="1493.5" y2="965.06" stroke="#231f20" stroke-width="1.3"/>
<text x="1471.9" y="973.46" font-size="23.6" text-anchor="end" fill="#231f20" textLength="28.2" lengthAdjust="spacingAndGlyphs">40</text>
<line x1="1483.6" y1="899.94" x2="1493.5" y2="899.94" stroke="#231f20" stroke-width="1.3"/>
<text x="1471.9" y="908.34" font-size="23.6" text-anchor="end" fill="#231f20" textLength="28.2" lengthAdjust="spacingAndGlyphs">60</text>
<line x1="1483.6" y1="834.82" x2="1493.5" y2="834.82" stroke="#231f20" stroke-width="1.3"/>
<text x="1471.9" y="843.22" font-size="23.6" text-anchor="end" fill="#231f20" textLength="28.2" lengthAdjust="spacingAndGlyphs">80</text>
<line x1="1538.5" y1="1095.3" x2="1538.5" y2="1105" stroke="#231f20" stroke-width="1.3"/>
<line x1="1606.9" y1="1095.3" x2="1606.9" y2="1105" stroke="#231f20" stroke-width="1.3"/>
<text transform="translate(1546.7 1117.8) rotate(-90)" font-size="28.5" text-anchor="end" fill="#231f20" textLength="73.3" lengthAdjust="spacingAndGlyphs">Blood</text>
<text transform="translate(1615.1 1117.8) rotate(-90)" font-size="28.5" text-anchor="end" fill="#231f20" textLength="88.4" lengthAdjust="spacingAndGlyphs">NSCLC</text>
<polyline points="1538.5,1046.8 1538.5,831.5 1606.9,831.5 1606.9,846.4" fill="none" stroke="#231f20" stroke-width="1.3"/>
<text x="1572.3" y="818.2" font-size="26.5" text-anchor="middle" fill="#231f20" textLength="103.7" lengthAdjust="spacingAndGlyphs">&lt;0.0001</text>
<text transform="translate(1418.5 965) rotate(-90)" font-size="26.5" text-anchor="middle" fill="#231f20" textLength="228.4" lengthAdjust="spacingAndGlyphs">Freq. of CD56<tspan dy="-11.5" font-size="20">bright</tspan></text>
<rect x="1508.3" y="1569.37" width="40.4" height="14.54" fill="#0b71b3"/>
<rect x="1508.3" y="1430.39" width="40.4" height="138.97" fill="#d92231"/>
<rect x="1508.3" y="1339.1" width="40.4" height="91.29" fill="#149a4e"/>
<rect x="1508.3" y="1328.9" width="40.4" height="10.2" fill="#d378a8"/>
<rect x="1556.8" y="1496.18" width="40.4" height="87.72" fill="#0b71b3"/>
<rect x="1556.8" y="1419.17" width="40.4" height="77.01" fill="#d92231"/>
<rect x="1556.8" y="1348.79" width="40.4" height="70.38" fill="#149a4e"/>
<rect x="1556.8" y="1328.9" width="40.4" height="19.89" fill="#d378a8"/>
<line x1="1490.9" y1="1316" x2="1490.9" y2="1584.5" stroke="#231f20" stroke-width="1.3"/>
<line x1="1481.3" y1="1583.9" x2="1612.5" y2="1583.9" stroke="#4a4646" stroke-width="1.55"/>
<text x="1469.5" y="1592.3" font-size="23.6" text-anchor="end" fill="#231f20" textLength="13.8" lengthAdjust="spacingAndGlyphs">0</text>
<line x1="1481.3" y1="1532.9" x2="1490.9" y2="1532.9" stroke="#231f20" stroke-width="1.3"/>
<text x="1469.5" y="1541.3" font-size="23.6" text-anchor="end" fill="#231f20" textLength="28.2" lengthAdjust="spacingAndGlyphs">20</text>
<line x1="1481.3" y1="1481.9" x2="1490.9" y2="1481.9" stroke="#231f20" stroke-width="1.3"/>
<text x="1469.5" y="1490.3" font-size="23.6" text-anchor="end" fill="#231f20" textLength="28.2" lengthAdjust="spacingAndGlyphs">40</text>
<line x1="1481.3" y1="1430.9" x2="1490.9" y2="1430.9" stroke="#231f20" stroke-width="1.3"/>
<text x="1469.5" y="1439.3" font-size="23.6" text-anchor="end" fill="#231f20" textLength="28.2" lengthAdjust="spacingAndGlyphs">60</text>
<line x1="1481.3" y1="1379.9" x2="1490.9" y2="1379.9" stroke="#231f20" stroke-width="1.3"/>
<text x="1469.5" y="1388.3" font-size="23.6" text-anchor="end" fill="#231f20" textLength="28.2" lengthAdjust="spacingAndGlyphs">80</text>
<line x1="1481.3" y1="1328.9" x2="1490.9" y2="1328.9" stroke="#231f20" stroke-width="1.3"/>
<text x="1469.5" y="1337.3" font-size="23.6" text-anchor="end" fill="#231f20" textLength="40" lengthAdjust="spacingAndGlyphs">100</text>
<line x1="1528.5" y1="1583.9" x2="1528.5" y2="1594.4" stroke="#231f20" stroke-width="1.3"/>
<text transform="translate(1536.7 1604.8) rotate(-90)" font-size="28.5" text-anchor="end" fill="#231f20" textLength="72" lengthAdjust="spacingAndGlyphs">Blood</text>
<line x1="1577" y1="1583.9" x2="1577" y2="1594.4" stroke="#231f20" stroke-width="1.3"/>
<text transform="translate(1585.2 1604.8) rotate(-90)" font-size="28.5" text-anchor="end" fill="#231f20" textLength="90" lengthAdjust="spacingAndGlyphs">NSCLC</text>
<text transform="translate(1408.8 1450.2) rotate(-90)" font-size="27" text-anchor="middle" fill="#231f20" textLength="132.2" lengthAdjust="spacingAndGlyphs">Proportion</text>
<rect x="1617.6" y="1375.7" width="23.7" height="23.9" fill="#0b71b3"/>
<text x="1655.7" y="1396.4" font-size="26.5" text-anchor="start" fill="#231f20" textLength="124.6" lengthAdjust="spacingAndGlyphs">CD56<tspan dy="-11.5" font-size="20">bright</tspan></text>
<rect x="1617.6" y="1416.15" width="23.7" height="23.9" fill="#d92231"/>
<text x="1655.7" y="1436.85" font-size="26.5" text-anchor="start" fill="#231f20" textLength="174.8" lengthAdjust="spacingAndGlyphs">Early CD56<tspan dy="-11.5" font-size="20">dim</tspan></text>
<rect x="1617.6" y="1456.6" width="23.7" height="23.9" fill="#00935f"/>
<text x="1655.7" y="1477.3" font-size="26.5" text-anchor="start" fill="#231f20" textLength="152.9" lengthAdjust="spacingAndGlyphs">Int. CD56<tspan dy="-11.5" font-size="20">dim</tspan></text>
<rect x="1617.6" y="1497.05" width="23.7" height="23.9" fill="#d378a8"/>
<text x="1655.7" y="1517.75" font-size="26.5" text-anchor="start" fill="#231f20" textLength="165.8" lengthAdjust="spacingAndGlyphs">Late CD56<tspan dy="-11.5" font-size="20">dim</tspan></text>
</svg>
</body></html>
